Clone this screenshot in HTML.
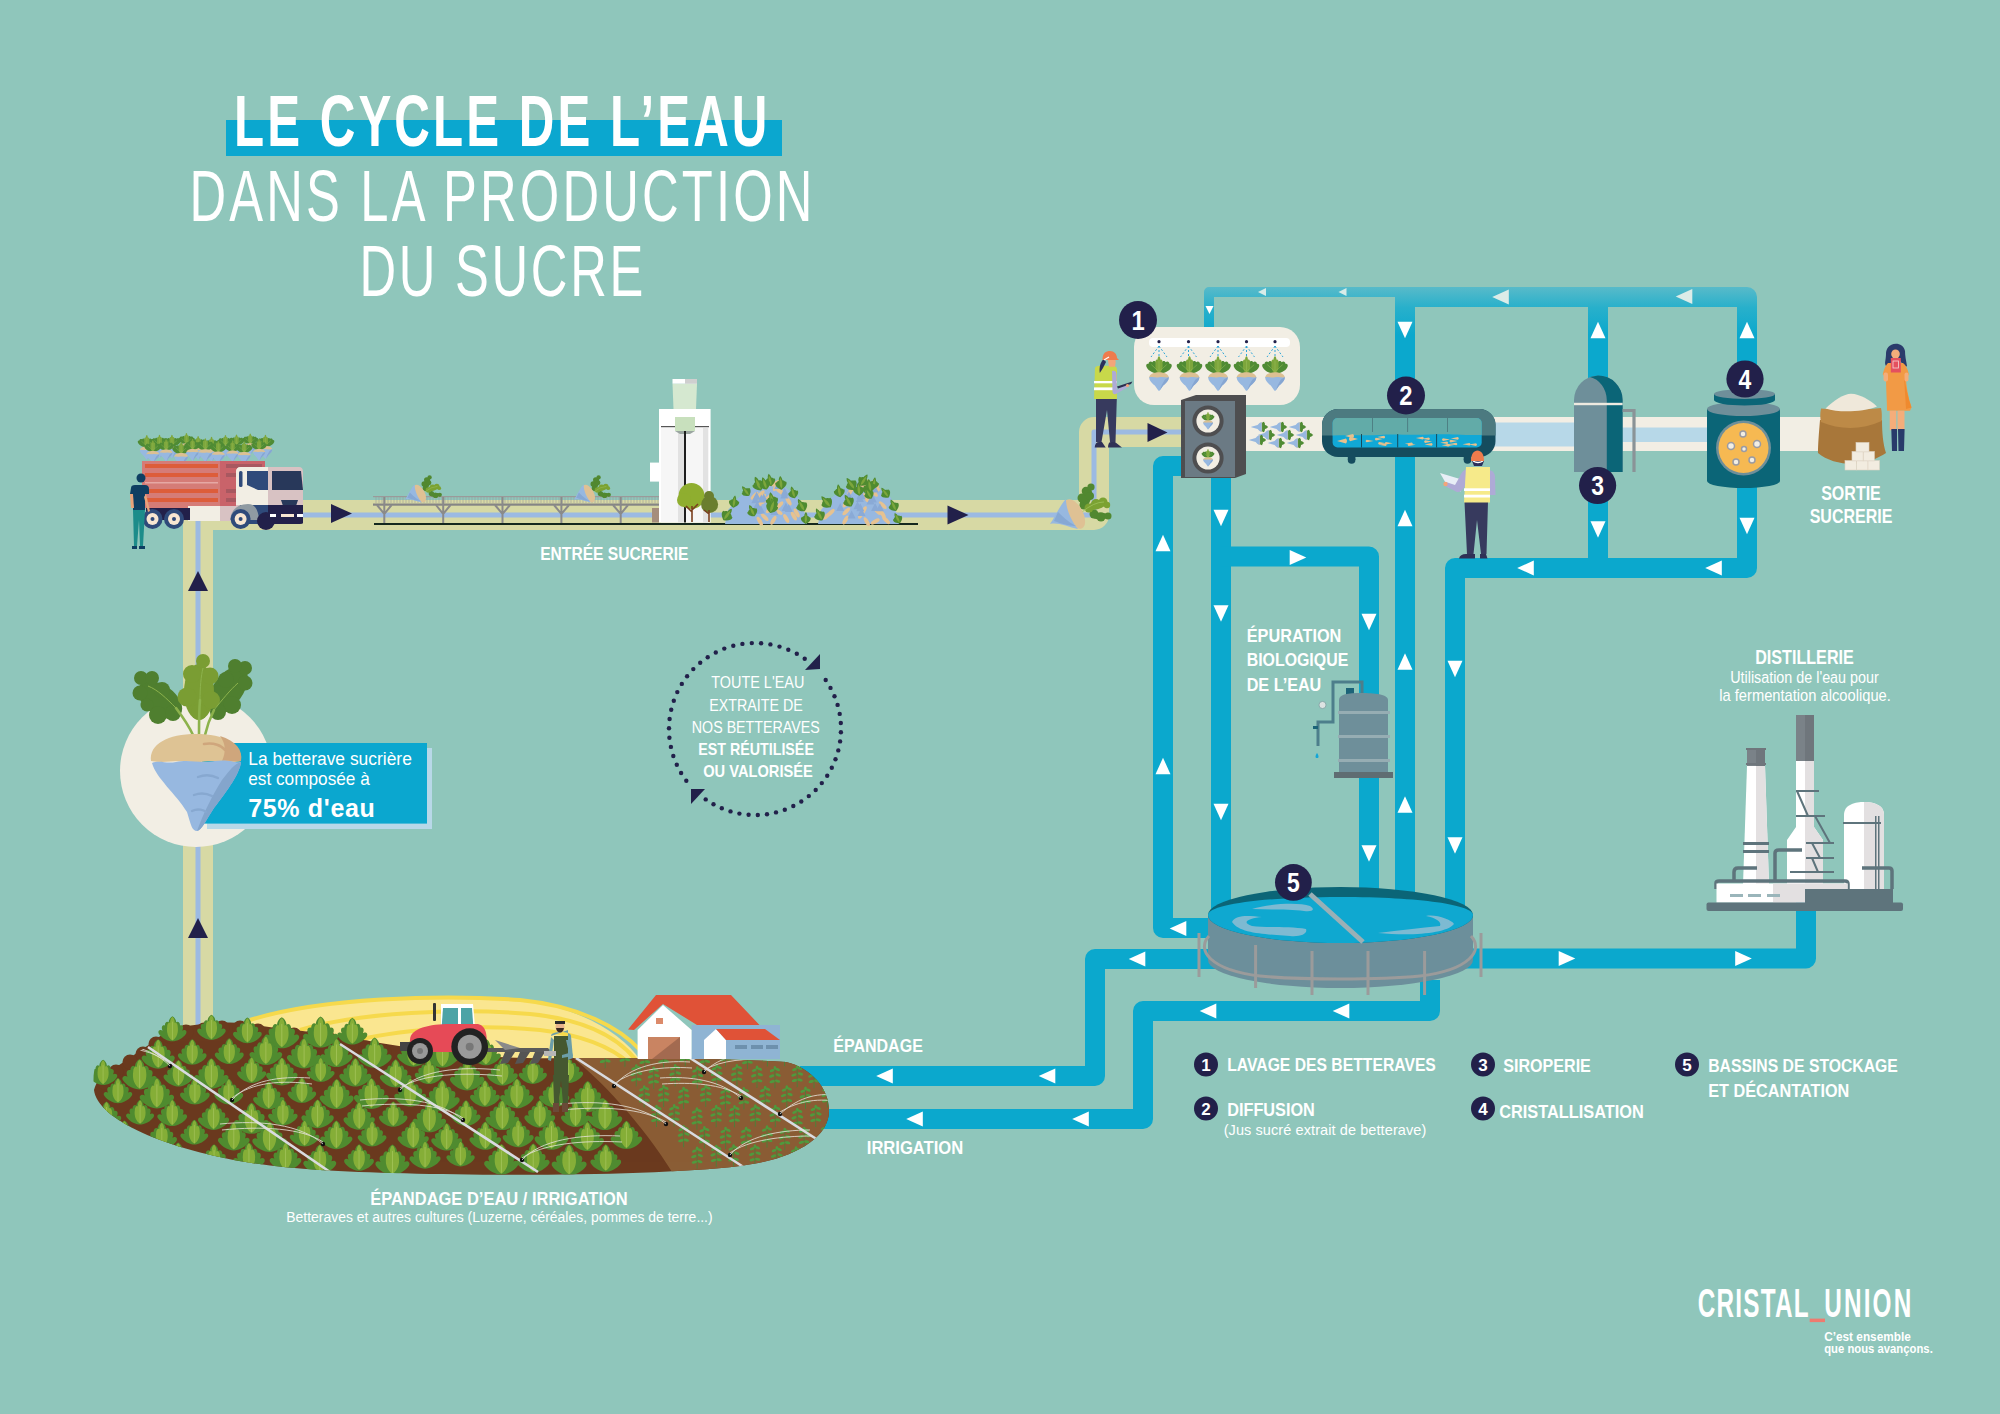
<!DOCTYPE html>
<html><head><meta charset="utf-8"><title>Le cycle de l'eau</title>
<style>
html,body{margin:0;padding:0;width:2000px;height:1414px;overflow:hidden;background:#8fc6bb;}
svg{display:block;}
text{font-family:"Liberation Sans",sans-serif;}
</style></head><body>
<svg width="2000" height="1414" viewBox="0 0 2000 1414">
<rect width="2000" height="1414" fill="#8fc6bb"/>
<!-- pipes -->
<defs>
<linearGradient id="topg" gradientUnits="userSpaceOnUse" x1="0" y1="285" x2="0" y2="335">
<stop offset="0" stop-color="#5dbbc9"/><stop offset="0.45" stop-color="#28b0cb"/><stop offset="1" stop-color="#0ba8cd"/>
</linearGradient>
</defs>
<g fill="none" stroke="#0ba8cd" stroke-linejoin="round">
<!-- thin top pipe -->
<path d="M1412 292 H1209 V335" stroke-width="10" stroke="url(#topg)"/>
<!-- top thick pipe + right loop -->
<path d="M1405 297 H1747 V568 H1455 V910" stroke-width="20" stroke="url(#topg)"/>
<path d="M1598 297 V568" stroke-width="20" stroke="url(#topg)"/>
<path d="M1405 297 V910" stroke-width="20" stroke="url(#topg)"/>
<!-- pipe A -->
<path d="M1190 466 H1163 V928 H1230" stroke-width="20"/>
<!-- pipe B + branch -->
<path d="M1221 470 V910" stroke-width="20"/>
<path d="M1221 556.5 H1369 V910" stroke-width="20"/>
<!-- middle left to epandage -->
<path d="M1300 959 H1095 V1076 H800" stroke-width="20"/>
<!-- right to distillery -->
<path d="M1380 958.5 H1806 V900" stroke-width="20"/>
<!-- lower to irrigation -->
<path d="M1430 980 V1011 H1143 V1119 H800" stroke-width="20"/>
</g>
<!-- tan pipe -->
<g fill="none" stroke-linejoin="round">
<path d="M198 1040 V515 H1094 V432 H1185" stroke="#d7d9a4" stroke-width="30"/>
<path d="M198 1040 V515 H1094 V432 H1185" stroke="#9cbae2" stroke-width="5"/>
</g>
<!-- cream conveyor -->
<rect x="1240" y="417" width="590" height="34" fill="#f2eee4"/>
<rect x="1490" y="422.5" width="90" height="24" fill="#b7d8e8"/>
<rect x="1620" y="427.5" width="95" height="14.5" fill="#b7d8e8"/>

<!-- arrows -->
<path d="M1492.2 297.0 L1508.8 289.5 L1508.8 304.5 Z" fill="#dcece8"/>
<path d="M1675.7 296.5 L1692.3 289.0 L1692.3 304.0 Z" fill="#dcece8"/>
<path d="M1598.0 321.7 L1590.5 338.3 L1605.5 338.3 Z" fill="#ffffff"/>
<path d="M1598.0 537.8 L1590.5 521.2 L1605.5 521.2 Z" fill="#ffffff"/>
<path d="M1747.0 321.7 L1739.5 338.3 L1754.5 338.3 Z" fill="#ffffff"/>
<path d="M1747.0 534.3 L1739.5 517.7 L1754.5 517.7 Z" fill="#ffffff"/>
<path d="M1517.2 568.0 L1533.8 560.5 L1533.8 575.5 Z" fill="#ffffff"/>
<path d="M1705.2 568.0 L1721.8 560.5 L1721.8 575.5 Z" fill="#ffffff"/>
<path d="M1405.0 338.3 L1397.5 321.7 L1412.5 321.7 Z" fill="#ffffff"/>
<path d="M1405.0 509.7 L1397.5 526.3 L1412.5 526.3 Z" fill="#ffffff"/>
<path d="M1405.0 653.2 L1397.5 669.8 L1412.5 669.8 Z" fill="#ffffff"/>
<path d="M1405.0 796.2 L1397.5 812.8 L1412.5 812.8 Z" fill="#ffffff"/>
<path d="M1455.0 677.3 L1447.5 660.7 L1462.5 660.7 Z" fill="#ffffff"/>
<path d="M1455.0 853.8 L1447.5 837.2 L1462.5 837.2 Z" fill="#ffffff"/>
<path d="M1369.0 630.3 L1361.5 613.7 L1376.5 613.7 Z" fill="#ffffff"/>
<path d="M1369.0 861.8 L1361.5 845.2 L1376.5 845.2 Z" fill="#ffffff"/>
<path d="M1306.3 557.5 L1289.7 550.0 L1289.7 565.0 Z" fill="#ffffff"/>
<path d="M1221.0 526.3 L1213.5 509.7 L1228.5 509.7 Z" fill="#ffffff"/>
<path d="M1221.0 621.8 L1213.5 605.2 L1228.5 605.2 Z" fill="#ffffff"/>
<path d="M1221.0 820.3 L1213.5 803.7 L1228.5 803.7 Z" fill="#ffffff"/>
<path d="M1163.0 534.7 L1155.5 551.3 L1170.5 551.3 Z" fill="#ffffff"/>
<path d="M1163.0 757.7 L1155.5 774.3 L1170.5 774.3 Z" fill="#ffffff"/>
<path d="M1169.7 928.5 L1186.3 921.0 L1186.3 936.0 Z" fill="#ffffff"/>
<path d="M1128.7 959.0 L1145.3 951.5 L1145.3 966.5 Z" fill="#ffffff"/>
<path d="M1199.7 1011.0 L1216.3 1003.5 L1216.3 1018.5 Z" fill="#ffffff"/>
<path d="M1332.7 1011.0 L1349.3 1003.5 L1349.3 1018.5 Z" fill="#ffffff"/>
<path d="M1575.3 958.5 L1558.7 951.0 L1558.7 966.0 Z" fill="#ffffff"/>
<path d="M1751.8 958.5 L1735.2 951.0 L1735.2 966.0 Z" fill="#ffffff"/>
<path d="M876.2 1076.0 L892.8 1068.5 L892.8 1083.5 Z" fill="#ffffff"/>
<path d="M1038.7 1076.0 L1055.3 1068.5 L1055.3 1083.5 Z" fill="#ffffff"/>
<path d="M906.2 1119.0 L922.8 1111.5 L922.8 1126.5 Z" fill="#ffffff"/>
<path d="M1072.2 1119.0 L1088.8 1111.5 L1088.8 1126.5 Z" fill="#ffffff"/>
<path d="M1258.0 292.0 L1266.0 288.0 L1266.0 296.0 Z" fill="#d8ece8"/>
<path d="M1338.5 292.0 L1346.5 288.0 L1346.5 296.0 Z" fill="#d8ece8"/>
<path d="M1209.5 314.0 L1205.5 306.0 L1213.5 306.0 Z" fill="#ffffff"/>
<path d="M352.0 513.5 L331.0 504.0 L331.0 523.0 Z" fill="#22204a"/>
<path d="M968.5 515.0 L947.5 505.5 L947.5 524.5 Z" fill="#22204a"/>
<path d="M1167.5 432.5 L1147.5 423.0 L1147.5 442.0 Z" fill="#22204a"/>
<path d="M198.0 571.0 L188.0 591.0 L208.0 591.0 Z" fill="#22204a"/>
<path d="M198.0 918.0 L188.0 938.0 L208.0 938.0 Z" fill="#22204a"/>
<!-- title -->
<rect x="226" y="120" width="556" height="36" fill="#0ba7cf"/>
<g transform="translate(234 145.5) scale(0.68 1)">
<text x="0" y="0" font-size="72.5" font-weight="bold" fill="#fff" textLength="784.5" lengthAdjust="spacing">LE CYCLE DE L’EAU</text>
</g>
<g transform="translate(189.5 221) scale(0.7 1)">
<text x="0" y="0" font-size="72.5" fill="#fff" textLength="890" lengthAdjust="spacing">DANS LA PRODUCTION</text>
</g>
<g transform="translate(359.5 295.5) scale(0.7 1)">
<text x="0" y="0" font-size="72.5" fill="#fff" textLength="405.5" lengthAdjust="spacing">DU SUCRE</text>
</g>

<!-- left -->
<!-- truck -->
<g>
<!-- beets on top -->
<use href="#beet" x="136.9" y="431.2" width="19.8" height="31.6"/>
<use href="#beet" x="150.1" y="431.0" width="18.8" height="30.0"/>
<use href="#beet" x="162.5" y="431.0" width="18.9" height="30.2"/>
<use href="#beet" x="177.5" y="429.4" width="17.9" height="28.7"/>
<use href="#beet" x="188.6" y="432.2" width="19.1" height="30.5"/>
<use href="#beet" x="201.6" y="432.9" width="19.9" height="31.8"/>
<use href="#beet" x="216.7" y="431.5" width="17.5" height="28.0"/>
<use href="#beet" x="227.9" y="431.1" width="17.2" height="27.5"/>
<use href="#beet" x="241.7" y="430.0" width="17.1" height="27.3"/>
<use href="#beet" x="255.7" y="430.8" width="19.5" height="31.2"/>
<use href="#beet" x="143.6" y="436.6" width="18.5" height="29.6"/>
<use href="#beet" x="157.2" y="435.8" width="17.8" height="28.5"/>
<use href="#beet" x="171.4" y="438.0" width="19.5" height="31.2"/>
<use href="#beet" x="183.7" y="435.3" width="17.7" height="28.3"/>
<use href="#beet" x="195.7" y="434.3" width="19.3" height="30.9"/>
<use href="#beet" x="209.2" y="437.4" width="18.2" height="29.1"/>
<use href="#beet" x="224.1" y="437.4" width="17.0" height="27.2"/>
<use href="#beet" x="235.0" y="437.6" width="18.4" height="29.5"/>
<use href="#beet" x="250.5" y="435.6" width="17.2" height="27.6"/>
<rect x="142" y="461" width="123" height="47" fill="#d57c77"/>
<rect x="220" y="461" width="45" height="47" fill="#c9636a"/>
<g fill="#dd5d3a">
<rect x="145" y="464" width="73" height="4"/><rect x="145" y="473" width="73" height="4"/><rect x="145" y="489" width="73" height="4"/><rect x="145" y="498" width="73" height="4"/>
</g>
<rect x="145" y="482" width="73" height="1.5" fill="#e6a8a4"/>
<g fill="#a85860"><rect x="226" y="464" width="36" height="4"/><rect x="226" y="473" width="36" height="4"/><rect x="226" y="489" width="36" height="4"/><rect x="226" y="498" width="36" height="4"/></g>
<rect x="188" y="506" width="45" height="15" fill="#f2eee4"/>
<rect x="220" y="506" width="16" height="15" fill="#d8c2c3"/>
<rect x="146" y="508" width="44" height="12" fill="#22204a"/>
<circle cx="152.5" cy="519" r="10" fill="#2f4a7a"/><circle cx="152.5" cy="519" r="6" fill="#f8e6d2"/><circle cx="152.5" cy="519" r="2" fill="#2f4a7a"/>
<circle cx="174" cy="519" r="10" fill="#2f4a7a"/><circle cx="174" cy="519" r="6" fill="#f8e6d2"/><circle cx="174" cy="519" r="2" fill="#2f4a7a"/>
<path d="M236 472 Q236 467 241 467 H299 Q303 467 303 472 V523 H236Z" fill="#d8c2c3"/>
<path d="M236 472 Q236 467 241 467 H268 V505 H236Z" fill="#f2eee4"/>
<rect x="239" y="471" width="3.5" height="16" rx="1.5" fill="#2f4a7a"/>
<path d="M247 471 H268 V490 H258 L247 485Z" fill="#2f4a7a"/>
<path d="M272 471 H301 L303 490 H272Z" fill="#28385a"/>
<path d="M281 500 H298 L296 506 H283Z" fill="#28385a"/>
<path d="M268 505 H303 V523 Q303 524 300 524 H268Z" fill="#22204a"/>
<path d="M240 505 H268 V524 H240Z" fill="#2f4a7a"/>
<path d="M230 520 Q232 504 248 504 Q258 504 259 520 Z" fill="#8f9aa2"/>
<circle cx="240.6" cy="519" r="10" fill="#2f4a7a"/><circle cx="240.6" cy="519" r="6" fill="#f8e6d2"/><circle cx="240.6" cy="519" r="2" fill="#2f4a7a"/>
<circle cx="266" cy="521" r="9" fill="#22204a"/>
<rect x="270" y="514" width="6" height="3" fill="#fff"/><rect x="281" y="514" width="13" height="3" fill="#f8e6d2"/><rect x="297" y="514" width="6" height="3" fill="#fff"/>
</g>
<!-- person by truck -->
<g>
<circle cx="141" cy="478" r="4.5" fill="#0e3e62"/>
<path d="M131 488 Q131 485 135 485 H145 Q149 485 149 489 V494 H145 V510 H133 V494 H130Z" fill="#0e3e62"/>
<path d="M133 510 H145 L143 546 H140 L139 520 L137 546 H134Z" fill="#1c8c8a"/>
<path d="M130 494 L131 508 L134 508 L133 494Z" fill="#e8a27a"/>
<path d="M146 494 L150 511 L148 512 L144 497Z" fill="#e8a27a"/>
<rect x="132" y="546" width="5" height="3" fill="#0e3e62"/><rect x="139" y="546" width="6" height="3" fill="#0e3e62"/>
</g>
<!-- bridge -->
<g>
<rect x="374" y="523" width="544" height="2" fill="#14281e"/>
<rect x="373" y="503.5" width="287" height="2.2" fill="#858585"/>
<rect x="373" y="496" width="287" height="1.2" fill="#9a9a9a"/>
<g stroke="#9a9a9a" stroke-width="0.6">
<path d="M376 497 V503 M379 497 V503 M382 497 V503 M385 497 V503 M388 497 V503 M391 497 V503 M394 497 V503 M397 497 V503 M400 497 V503 M403 497 V503 M406 497 V503 M409 497 V503 M412 497 V503 M415 497 V503 M418 497 V503 M421 497 V503 M424 497 V503 M427 497 V503 M430 497 V503 M433 497 V503 M436 497 V503 M439 497 V503 M442 497 V503 M445 497 V503 M448 497 V503 M451 497 V503 M454 497 V503 M457 497 V503 M460 497 V503 M463 497 V503 M466 497 V503 M469 497 V503 M472 497 V503 M475 497 V503 M478 497 V503 M481 497 V503 M484 497 V503 M487 497 V503 M490 497 V503 M493 497 V503 M496 497 V503 M499 497 V503 M502 497 V503 M505 497 V503 M508 497 V503 M511 497 V503 M514 497 V503 M517 497 V503 M520 497 V503 M523 497 V503 M526 497 V503 M529 497 V503 M532 497 V503 M535 497 V503 M538 497 V503 M541 497 V503 M544 497 V503 M547 497 V503 M550 497 V503 M553 497 V503 M556 497 V503 M559 497 V503 M562 497 V503 M565 497 V503 M568 497 V503 M571 497 V503 M574 497 V503 M577 497 V503 M580 497 V503 M583 497 V503 M586 497 V503 M589 497 V503 M592 497 V503 M595 497 V503 M598 497 V503 M601 497 V503 M604 497 V503 M607 497 V503 M610 497 V503 M613 497 V503 M616 497 V503 M619 497 V503 M622 497 V503 M625 497 V503 M628 497 V503 M631 497 V503 M634 497 V503 M637 497 V503 M640 497 V503 M643 497 V503 M646 497 V503 M649 497 V503 M652 497 V503 M655 497 V503 M658 497 V503"/>
</g>
<g fill="none" stroke="#8a8a8a" stroke-width="2">
<path d="M384.3 497 V523 M377 505 L384.3 514 L391.6 505"/>
<path d="M443.2 497 V523 M436 505 L443.2 514 L450.5 505"/>
<path d="M502.5 497 V523 M495 505 L502.5 514 L510 505"/>
<path d="M561.4 497 V523 M554 505 L561.4 514 L569 505"/>
<path d="M620.7 497 V523 M613 505 L620.7 514 L628 505"/>
</g>
<use href="#tbeet" transform="translate(405 475) scale(0.6) translate(-1050 -483)"/>
<use href="#tbeet" transform="translate(574 475) scale(0.6) translate(-1050 -483)"/>
</g>
<!-- silo -->
<g>
<rect x="650" y="462.6" width="9.6" height="19" fill="#ffffff"/>
<rect x="652" y="508" width="7" height="14.5" fill="#a58d7c"/>
<rect x="659" y="409" width="51.6" height="113.5" fill="#ffffff"/>
<rect x="661" y="426" width="48" height="96.5" fill="#f6f6f6"/>
<rect x="678" y="428" width="6" height="94.5" fill="#e2e2e2"/>
<rect x="703" y="428" width="5" height="94.5" fill="#e2e2e2"/>
<rect x="661" y="426" width="48" height="1.2" fill="#555"/>
<path d="M672.5 383.7 H697 L696 409 H673.5Z" fill="#d5e8d0"/>
<rect x="672.5" y="379" width="24.5" height="4.7" fill="#ffffff"/><rect x="685" y="379" width="12" height="4.7" fill="#cfcfcf"/>
<rect x="675" y="417" width="20" height="14" fill="#c8e0bd"/>
<path d="M675 431 H695 L690 434 H680Z" fill="#9aa5a0"/>
<rect x="684" y="431" width="2" height="91.5" fill="#1e1e1e"/>
<circle cx="691.5" cy="496" r="13" fill="#8fae2f"/><circle cx="684" cy="500" r="7" fill="#8fae2f"/>
<circle cx="709.6" cy="504.4" r="8.5" fill="#6a7e2e"/><circle cx="709" cy="496" r="5" fafill="#6a7e2e" fill="#6a7e2e"/>
<path d="M692 522 V506 M692 512 L686 506 M692 510 L698 504 M709 522 V510 M709 514 L704 510" stroke="#7a3f1e" stroke-width="1.6" fill="none"/>
</g>
<!-- beet piles -->
<path d="M725.0 524.0 L728.0 510.0 L738.0 498.0 L752.0 488.0 L763.0 483.0 L775.0 480.0 L785.0 487.0 L799.0 498.0 L804.0 512.0 L807.0 524.0 Z" fill="#97b8e0"/>
<ellipse cx="763.5" cy="500.8" rx="5" ry="2" transform="rotate(-45 763.5 500.8)" fill="#e6c291"/>
<ellipse cx="773.7" cy="499.3" rx="5" ry="2" transform="rotate(60 773.7 499.3)" fill="#e6c291"/>
<ellipse cx="796.7" cy="512.9" rx="5" ry="2" transform="rotate(60 796.7 512.9)" fill="#e6c291"/>
<ellipse cx="764.8" cy="500.6" rx="5" ry="2" transform="rotate(-30 764.8 500.6)" fill="#e6c291"/>
<ellipse cx="793.8" cy="516.1" rx="5" ry="2" transform="rotate(60 793.8 516.1)" fill="#e6c291"/>
<ellipse cx="754.5" cy="495.8" rx="5" ry="2" transform="rotate(-45 754.5 495.8)" fill="#e6c291"/>
<ellipse cx="780.5" cy="491.6" rx="5" ry="2" transform="rotate(30 780.5 491.6)" fill="#e6c291"/>
<ellipse cx="783.0" cy="494.0" rx="5" ry="2" transform="rotate(45 783.0 494.0)" fill="#e6c291"/>
<ellipse cx="779.5" cy="505.3" rx="5" ry="2" transform="rotate(-45 779.5 505.3)" fill="#e6c291"/>
<ellipse cx="780.1" cy="485.5" rx="5" ry="2" transform="rotate(-60 780.1 485.5)" fill="#e6c291"/>
<ellipse cx="757.6" cy="502.7" rx="5" ry="2" transform="rotate(45 757.6 502.7)" fill="#e6c291"/>
<ellipse cx="762.1" cy="497.6" rx="5" ry="2" transform="rotate(-45 762.1 497.6)" fill="#e6c291"/>
<ellipse cx="770.7" cy="499.6" rx="5" ry="2" transform="rotate(60 770.7 499.6)" fill="#e6c291"/>
<ellipse cx="776.0" cy="486.7" rx="5" ry="2" transform="rotate(-60 776.0 486.7)" fill="#e6c291"/>
<ellipse cx="775.6" cy="483.4" rx="5" ry="2" transform="rotate(-30 775.6 483.4)" fill="#e6c291"/>
<ellipse cx="769.7" cy="509.3" rx="5" ry="2" transform="rotate(-45 769.7 509.3)" fill="#e6c291"/>
<ellipse cx="760.8" cy="494.2" rx="5" ry="2" transform="rotate(-45 760.8 494.2)" fill="#e6c291"/>
<ellipse cx="764.7" cy="517.1" rx="5" ry="2" transform="rotate(45 764.7 517.1)" fill="#e6c291"/>
<ellipse cx="786.2" cy="518.5" rx="5" ry="2" transform="rotate(60 786.2 518.5)" fill="#e6c291"/>
<ellipse cx="759.8" cy="521.2" rx="5" ry="2" transform="rotate(60 759.8 521.2)" fill="#e6c291"/>
<ellipse cx="773.4" cy="520.3" rx="5" ry="2" transform="rotate(-60 773.4 520.3)" fill="#e6c291"/>
<ellipse cx="771.5" cy="499.1" rx="5" ry="2" transform="rotate(30 771.5 499.1)" fill="#e6c291"/>
<ellipse cx="769.3" cy="483.1" rx="5" ry="2" transform="rotate(-60 769.3 483.1)" fill="#e6c291"/>
<ellipse cx="788.5" cy="501.1" rx="5" ry="2" transform="rotate(60 788.5 501.1)" fill="#e6c291"/>
<ellipse cx="778.1" cy="511.7" rx="5" ry="2" transform="rotate(30 778.1 511.7)" fill="#e6c291"/>
<ellipse cx="780.1" cy="484.6" rx="5" ry="2" transform="rotate(60 780.1 484.6)" fill="#e6c291"/>
<path d="M782.0 511.1 l4 -8 l4 8Z" fill="#8aaad6"/>
<path d="M781.8 510.7 l4 -8 l4 8Z" fill="#8aaad6"/>
<path d="M752.6 499.8 l4 -8 l4 8Z" fill="#8aaad6"/>
<path d="M774.2 489.0 l4 -8 l4 8Z" fill="#8aaad6"/>
<path d="M770.4 515.0 l4 -8 l4 8Z" fill="#8aaad6"/>
<path d="M780.3 498.5 l4 -8 l4 8Z" fill="#8aaad6"/>
<path d="M753.2 508.8 l4 -8 l4 8Z" fill="#8aaad6"/>
<path d="M754.8 513.8 l4 -8 l4 8Z" fill="#8aaad6"/>
<path d="M780.7 495.8 l4 -8 l4 8Z" fill="#8aaad6"/>
<path d="M756.9 513.3 l4 -8 l4 8Z" fill="#8aaad6"/>
<path d="M751.3 503.2 l4 -8 l4 8Z" fill="#8aaad6"/>
<path d="M759.7 501.6 l4 -8 l4 8Z" fill="#8aaad6"/>
<path d="M784.7 511.9 l4 -8 l4 8Z" fill="#8aaad6"/>
<path d="M757.3 502.5 l4 -8 l4 8Z" fill="#8aaad6"/>
<g transform="translate(726.8 515.6) rotate(36) scale(0.94)"><path d="M0 6 C-4 4 -7 1 -6 -2 C-4 -2 -4 -4 -2 -4 C-2 -6 -1 -8 0 -9 C1 -8 2 -6 2 -4 C4 -4 4 -2 6 -2 C7 1 4 4 0 6Z" fill="#4f8b30"/><path d="M0 5 C-2 2 -2 -2 0 -7 C2 -2 2 2 0 5Z" fill="#7da63c"/></g>
<g transform="translate(734.0 502.8) rotate(8) scale(0.83)"><path d="M0 6 C-4 4 -7 1 -6 -2 C-4 -2 -4 -4 -2 -4 C-2 -6 -1 -8 0 -9 C1 -8 2 -6 2 -4 C4 -4 4 -2 6 -2 C7 1 4 4 0 6Z" fill="#4f8b30"/><path d="M0 5 C-2 2 -2 -2 0 -7 C2 -2 2 2 0 5Z" fill="#7da63c"/></g>
<g transform="translate(746.4 492.0) rotate(-37) scale(0.79)"><path d="M0 6 C-4 4 -7 1 -6 -2 C-4 -2 -4 -4 -2 -4 C-2 -6 -1 -8 0 -9 C1 -8 2 -6 2 -4 C4 -4 4 -2 6 -2 C7 1 4 4 0 6Z" fill="#4f8b30"/><path d="M0 5 C-2 2 -2 -2 0 -7 C2 -2 2 2 0 5Z" fill="#7da63c"/></g>
<g transform="translate(758.6 485.0) rotate(-24) scale(0.99)"><path d="M0 6 C-4 4 -7 1 -6 -2 C-4 -2 -4 -4 -2 -4 C-2 -6 -1 -8 0 -9 C1 -8 2 -6 2 -4 C4 -4 4 -2 6 -2 C7 1 4 4 0 6Z" fill="#4f8b30"/><path d="M0 5 C-2 2 -2 -2 0 -7 C2 -2 2 2 0 5Z" fill="#7da63c"/></g>
<g transform="translate(770.2 481.2) rotate(-12) scale(0.84)"><path d="M0 6 C-4 4 -7 1 -6 -2 C-4 -2 -4 -4 -2 -4 C-2 -6 -1 -8 0 -9 C1 -8 2 -6 2 -4 C4 -4 4 -2 6 -2 C7 1 4 4 0 6Z" fill="#4f8b30"/><path d="M0 5 C-2 2 -2 -2 0 -7 C2 -2 2 2 0 5Z" fill="#7da63c"/></g>
<g transform="translate(781.0 484.2) rotate(-6) scale(0.92)"><path d="M0 6 C-4 4 -7 1 -6 -2 C-4 -2 -4 -4 -2 -4 C-2 -6 -1 -8 0 -9 C1 -8 2 -6 2 -4 C4 -4 4 -2 6 -2 C7 1 4 4 0 6Z" fill="#4f8b30"/><path d="M0 5 C-2 2 -2 -2 0 -7 C2 -2 2 2 0 5Z" fill="#7da63c"/></g>
<g transform="translate(793.4 493.6) rotate(-17) scale(0.82)"><path d="M0 6 C-4 4 -7 1 -6 -2 C-4 -2 -4 -4 -2 -4 C-2 -6 -1 -8 0 -9 C1 -8 2 -6 2 -4 C4 -4 4 -2 6 -2 C7 1 4 4 0 6Z" fill="#4f8b30"/><path d="M0 5 C-2 2 -2 -2 0 -7 C2 -2 2 2 0 5Z" fill="#7da63c"/></g>
<g transform="translate(802.0 506.4) rotate(-28) scale(0.93)"><path d="M0 6 C-4 4 -7 1 -6 -2 C-4 -2 -4 -4 -2 -4 C-2 -6 -1 -8 0 -9 C1 -8 2 -6 2 -4 C4 -4 4 -2 6 -2 C7 1 4 4 0 6Z" fill="#4f8b30"/><path d="M0 5 C-2 2 -2 -2 0 -7 C2 -2 2 2 0 5Z" fill="#7da63c"/></g>
<g transform="translate(805.8 519.2) rotate(1) scale(0.79)"><path d="M0 6 C-4 4 -7 1 -6 -2 C-4 -2 -4 -4 -2 -4 C-2 -6 -1 -8 0 -9 C1 -8 2 -6 2 -4 C4 -4 4 -2 6 -2 C7 1 4 4 0 6Z" fill="#4f8b30"/><path d="M0 5 C-2 2 -2 -2 0 -7 C2 -2 2 2 0 5Z" fill="#7da63c"/></g>
<g transform="translate(772.1 500.9) rotate(-12) scale(0.99)"><path d="M0 6 C-4 4 -7 1 -6 -2 C-4 -2 -4 -4 -2 -4 C-2 -6 -1 -8 0 -9 C1 -8 2 -6 2 -4 C4 -4 4 -2 6 -2 C7 1 4 4 0 6Z" fill="#4f8b30"/><path d="M0 5 C-2 2 -2 -2 0 -7 C2 -2 2 2 0 5Z" fill="#7da63c"/></g>
<g transform="translate(765.0 484.6) rotate(-19) scale(0.87)"><path d="M0 6 C-4 4 -7 1 -6 -2 C-4 -2 -4 -4 -2 -4 C-2 -6 -1 -8 0 -9 C1 -8 2 -6 2 -4 C4 -4 4 -2 6 -2 C7 1 4 4 0 6Z" fill="#4f8b30"/><path d="M0 5 C-2 2 -2 -2 0 -7 C2 -2 2 2 0 5Z" fill="#7da63c"/></g>
<g transform="translate(773.1 505.1) rotate(-13) scale(0.79)"><path d="M0 6 C-4 4 -7 1 -6 -2 C-4 -2 -4 -4 -2 -4 C-2 -6 -1 -8 0 -9 C1 -8 2 -6 2 -4 C4 -4 4 -2 6 -2 C7 1 4 4 0 6Z" fill="#4f8b30"/><path d="M0 5 C-2 2 -2 -2 0 -7 C2 -2 2 2 0 5Z" fill="#7da63c"/></g>
<g transform="translate(771.9 507.5) rotate(17) scale(0.97)"><path d="M0 6 C-4 4 -7 1 -6 -2 C-4 -2 -4 -4 -2 -4 C-2 -6 -1 -8 0 -9 C1 -8 2 -6 2 -4 C4 -4 4 -2 6 -2 C7 1 4 4 0 6Z" fill="#4f8b30"/><path d="M0 5 C-2 2 -2 -2 0 -7 C2 -2 2 2 0 5Z" fill="#7da63c"/></g>
<g transform="translate(752.5 511.8) rotate(-25) scale(0.83)"><path d="M0 6 C-4 4 -7 1 -6 -2 C-4 -2 -4 -4 -2 -4 C-2 -6 -1 -8 0 -9 C1 -8 2 -6 2 -4 C4 -4 4 -2 6 -2 C7 1 4 4 0 6Z" fill="#4f8b30"/><path d="M0 5 C-2 2 -2 -2 0 -7 C2 -2 2 2 0 5Z" fill="#7da63c"/></g>
<path d="M818.0 524.0 L821.0 510.0 L831.0 498.0 L845.0 488.0 L856.0 483.0 L868.0 480.0 L878.0 487.0 L891.0 498.0 L896.0 512.0 L899.0 524.0 Z" fill="#97b8e0"/>
<ellipse cx="861.6" cy="484.7" rx="5" ry="2" transform="rotate(-45 861.6 484.7)" fill="#e6c291"/>
<ellipse cx="877.3" cy="511.1" rx="5" ry="2" transform="rotate(45 877.3 511.1)" fill="#e6c291"/>
<ellipse cx="865.9" cy="497.8" rx="5" ry="2" transform="rotate(60 865.9 497.8)" fill="#e6c291"/>
<ellipse cx="857.3" cy="491.0" rx="5" ry="2" transform="rotate(30 857.3 491.0)" fill="#e6c291"/>
<ellipse cx="863.6" cy="510.7" rx="5" ry="2" transform="rotate(-60 863.6 510.7)" fill="#e6c291"/>
<ellipse cx="826.9" cy="515.9" rx="5" ry="2" transform="rotate(-45 826.9 515.9)" fill="#e6c291"/>
<ellipse cx="882.8" cy="505.1" rx="5" ry="2" transform="rotate(45 882.8 505.1)" fill="#e6c291"/>
<ellipse cx="874.0" cy="492.9" rx="5" ry="2" transform="rotate(45 874.0 492.9)" fill="#e6c291"/>
<ellipse cx="866.1" cy="484.4" rx="5" ry="2" transform="rotate(-30 866.1 484.4)" fill="#e6c291"/>
<ellipse cx="876.1" cy="488.5" rx="5" ry="2" transform="rotate(-60 876.1 488.5)" fill="#e6c291"/>
<ellipse cx="886.1" cy="520.2" rx="5" ry="2" transform="rotate(45 886.1 520.2)" fill="#e6c291"/>
<ellipse cx="882.7" cy="514.3" rx="5" ry="2" transform="rotate(60 882.7 514.3)" fill="#e6c291"/>
<ellipse cx="875.2" cy="521.5" rx="5" ry="2" transform="rotate(-30 875.2 521.5)" fill="#e6c291"/>
<ellipse cx="830.8" cy="512.7" rx="5" ry="2" transform="rotate(-45 830.8 512.7)" fill="#e6c291"/>
<ellipse cx="867.3" cy="485.4" rx="5" ry="2" transform="rotate(30 867.3 485.4)" fill="#e6c291"/>
<ellipse cx="866.0" cy="484.1" rx="5" ry="2" transform="rotate(-60 866.0 484.1)" fill="#e6c291"/>
<ellipse cx="861.2" cy="514.3" rx="5" ry="2" transform="rotate(-60 861.2 514.3)" fill="#e6c291"/>
<ellipse cx="875.9" cy="491.1" rx="5" ry="2" transform="rotate(-30 875.9 491.1)" fill="#e6c291"/>
<ellipse cx="866.8" cy="521.7" rx="5" ry="2" transform="rotate(60 866.8 521.7)" fill="#e6c291"/>
<ellipse cx="846.3" cy="511.4" rx="5" ry="2" transform="rotate(-45 846.3 511.4)" fill="#e6c291"/>
<ellipse cx="845.5" cy="520.0" rx="5" ry="2" transform="rotate(-60 845.5 520.0)" fill="#e6c291"/>
<ellipse cx="850.2" cy="491.8" rx="5" ry="2" transform="rotate(-60 850.2 491.8)" fill="#e6c291"/>
<ellipse cx="871.9" cy="484.0" rx="5" ry="2" transform="rotate(-60 871.9 484.0)" fill="#e6c291"/>
<ellipse cx="845.8" cy="502.9" rx="5" ry="2" transform="rotate(-60 845.8 502.9)" fill="#e6c291"/>
<ellipse cx="865.8" cy="496.8" rx="5" ry="2" transform="rotate(30 865.8 496.8)" fill="#e6c291"/>
<ellipse cx="864.1" cy="483.5" rx="5" ry="2" transform="rotate(-30 864.1 483.5)" fill="#e6c291"/>
<path d="M866.5 504.4 l4 -8 l4 8Z" fill="#8aaad6"/>
<path d="M836.2 510.9 l4 -8 l4 8Z" fill="#8aaad6"/>
<path d="M847.6 518.4 l4 -8 l4 8Z" fill="#8aaad6"/>
<path d="M868.8 502.6 l4 -8 l4 8Z" fill="#8aaad6"/>
<path d="M871.1 510.9 l4 -8 l4 8Z" fill="#8aaad6"/>
<path d="M855.9 502.0 l4 -8 l4 8Z" fill="#8aaad6"/>
<path d="M856.3 511.2 l4 -8 l4 8Z" fill="#8aaad6"/>
<path d="M856.5 499.0 l4 -8 l4 8Z" fill="#8aaad6"/>
<path d="M857.7 499.3 l4 -8 l4 8Z" fill="#8aaad6"/>
<path d="M857.5 515.9 l4 -8 l4 8Z" fill="#8aaad6"/>
<path d="M844.9 499.3 l4 -8 l4 8Z" fill="#8aaad6"/>
<path d="M853.5 509.3 l4 -8 l4 8Z" fill="#8aaad6"/>
<path d="M870.6 492.5 l4 -8 l4 8Z" fill="#8aaad6"/>
<path d="M875.9 511.2 l4 -8 l4 8Z" fill="#8aaad6"/>
<g transform="translate(819.8 515.6) rotate(-27) scale(0.90)"><path d="M0 6 C-4 4 -7 1 -6 -2 C-4 -2 -4 -4 -2 -4 C-2 -6 -1 -8 0 -9 C1 -8 2 -6 2 -4 C4 -4 4 -2 6 -2 C7 1 4 4 0 6Z" fill="#4f8b30"/><path d="M0 5 C-2 2 -2 -2 0 -7 C2 -2 2 2 0 5Z" fill="#7da63c"/></g>
<g transform="translate(827.0 502.8) rotate(-40) scale(0.96)"><path d="M0 6 C-4 4 -7 1 -6 -2 C-4 -2 -4 -4 -2 -4 C-2 -6 -1 -8 0 -9 C1 -8 2 -6 2 -4 C4 -4 4 -2 6 -2 C7 1 4 4 0 6Z" fill="#4f8b30"/><path d="M0 5 C-2 2 -2 -2 0 -7 C2 -2 2 2 0 5Z" fill="#7da63c"/></g>
<g transform="translate(839.4 492.0) rotate(-10) scale(0.88)"><path d="M0 6 C-4 4 -7 1 -6 -2 C-4 -2 -4 -4 -2 -4 C-2 -6 -1 -8 0 -9 C1 -8 2 -6 2 -4 C4 -4 4 -2 6 -2 C7 1 4 4 0 6Z" fill="#4f8b30"/><path d="M0 5 C-2 2 -2 -2 0 -7 C2 -2 2 2 0 5Z" fill="#7da63c"/></g>
<g transform="translate(851.6 485.0) rotate(-35) scale(0.95)"><path d="M0 6 C-4 4 -7 1 -6 -2 C-4 -2 -4 -4 -2 -4 C-2 -6 -1 -8 0 -9 C1 -8 2 -6 2 -4 C4 -4 4 -2 6 -2 C7 1 4 4 0 6Z" fill="#4f8b30"/><path d="M0 5 C-2 2 -2 -2 0 -7 C2 -2 2 2 0 5Z" fill="#7da63c"/></g>
<g transform="translate(863.2 481.2) rotate(32) scale(0.89)"><path d="M0 6 C-4 4 -7 1 -6 -2 C-4 -2 -4 -4 -2 -4 C-2 -6 -1 -8 0 -9 C1 -8 2 -6 2 -4 C4 -4 4 -2 6 -2 C7 1 4 4 0 6Z" fill="#4f8b30"/><path d="M0 5 C-2 2 -2 -2 0 -7 C2 -2 2 2 0 5Z" fill="#7da63c"/></g>
<g transform="translate(874.0 484.2) rotate(8) scale(0.79)"><path d="M0 6 C-4 4 -7 1 -6 -2 C-4 -2 -4 -4 -2 -4 C-2 -6 -1 -8 0 -9 C1 -8 2 -6 2 -4 C4 -4 4 -2 6 -2 C7 1 4 4 0 6Z" fill="#4f8b30"/><path d="M0 5 C-2 2 -2 -2 0 -7 C2 -2 2 2 0 5Z" fill="#7da63c"/></g>
<g transform="translate(885.8 493.6) rotate(-37) scale(0.81)"><path d="M0 6 C-4 4 -7 1 -6 -2 C-4 -2 -4 -4 -2 -4 C-2 -6 -1 -8 0 -9 C1 -8 2 -6 2 -4 C4 -4 4 -2 6 -2 C7 1 4 4 0 6Z" fill="#4f8b30"/><path d="M0 5 C-2 2 -2 -2 0 -7 C2 -2 2 2 0 5Z" fill="#7da63c"/></g>
<g transform="translate(894.0 506.4) rotate(-25) scale(0.85)"><path d="M0 6 C-4 4 -7 1 -6 -2 C-4 -2 -4 -4 -2 -4 C-2 -6 -1 -8 0 -9 C1 -8 2 -6 2 -4 C4 -4 4 -2 6 -2 C7 1 4 4 0 6Z" fill="#4f8b30"/><path d="M0 5 C-2 2 -2 -2 0 -7 C2 -2 2 2 0 5Z" fill="#7da63c"/></g>
<g transform="translate(897.8 519.2) rotate(-26) scale(0.78)"><path d="M0 6 C-4 4 -7 1 -6 -2 C-4 -2 -4 -4 -2 -4 C-2 -6 -1 -8 0 -9 C1 -8 2 -6 2 -4 C4 -4 4 -2 6 -2 C7 1 4 4 0 6Z" fill="#4f8b30"/><path d="M0 5 C-2 2 -2 -2 0 -7 C2 -2 2 2 0 5Z" fill="#7da63c"/></g>
<g transform="translate(858.9 490.3) rotate(-4) scale(0.92)"><path d="M0 6 C-4 4 -7 1 -6 -2 C-4 -2 -4 -4 -2 -4 C-2 -6 -1 -8 0 -9 C1 -8 2 -6 2 -4 C4 -4 4 -2 6 -2 C7 1 4 4 0 6Z" fill="#4f8b30"/><path d="M0 5 C-2 2 -2 -2 0 -7 C2 -2 2 2 0 5Z" fill="#7da63c"/></g>
<g transform="translate(848.8 501.8) rotate(-29) scale(0.90)"><path d="M0 6 C-4 4 -7 1 -6 -2 C-4 -2 -4 -4 -2 -4 C-2 -6 -1 -8 0 -9 C1 -8 2 -6 2 -4 C4 -4 4 -2 6 -2 C7 1 4 4 0 6Z" fill="#4f8b30"/><path d="M0 5 C-2 2 -2 -2 0 -7 C2 -2 2 2 0 5Z" fill="#7da63c"/></g>
<g transform="translate(867.5 489.5) rotate(32) scale(0.78)"><path d="M0 6 C-4 4 -7 1 -6 -2 C-4 -2 -4 -4 -2 -4 C-2 -6 -1 -8 0 -9 C1 -8 2 -6 2 -4 C4 -4 4 -2 6 -2 C7 1 4 4 0 6Z" fill="#4f8b30"/><path d="M0 5 C-2 2 -2 -2 0 -7 C2 -2 2 2 0 5Z" fill="#7da63c"/></g>
<g transform="translate(869.9 486.9) rotate(-10) scale(0.89)"><path d="M0 6 C-4 4 -7 1 -6 -2 C-4 -2 -4 -4 -2 -4 C-2 -6 -1 -8 0 -9 C1 -8 2 -6 2 -4 C4 -4 4 -2 6 -2 C7 1 4 4 0 6Z" fill="#4f8b30"/><path d="M0 5 C-2 2 -2 -2 0 -7 C2 -2 2 2 0 5Z" fill="#7da63c"/></g>
<g transform="translate(869.2 494.6) rotate(-28) scale(0.79)"><path d="M0 6 C-4 4 -7 1 -6 -2 C-4 -2 -4 -4 -2 -4 C-2 -6 -1 -8 0 -9 C1 -8 2 -6 2 -4 C4 -4 4 -2 6 -2 C7 1 4 4 0 6Z" fill="#4f8b30"/><path d="M0 5 C-2 2 -2 -2 0 -7 C2 -2 2 2 0 5Z" fill="#7da63c"/></g>
<g id="tbeet">
<ellipse cx="1086" cy="498" rx="5" ry="11" transform="rotate(20 1086 498)" fill="#518830"/><ellipse cx="1100" cy="516" rx="8" ry="3.6" fill="#518830"/>
<g fill="#518830"><circle cx="1084" cy="505" r="4.5"/><circle cx="1082" cy="498" r="4.5"/><circle cx="1086" cy="491" r="4.3"/><circle cx="1091" cy="487" r="3.6"/><circle cx="1090" cy="496" r="4"/></g>
<g fill="#518830"><circle cx="1094" cy="514" r="4.5"/><circle cx="1101" cy="517" r="4.5"/><circle cx="1108" cy="516" r="3.5"/></g>
<ellipse cx="1097" cy="505" rx="10" ry="4.2" transform="rotate(-18 1097 505)" fill="#7ba232"/>
<g fill="#7ba232"><circle cx="1089" cy="508" r="4.5"/><circle cx="1096" cy="504" r="5"/><circle cx="1103" cy="502" r="4.5"/><circle cx="1107" cy="505" r="3.2"/></g>
<path d="M1082 512 Q1094 502 1104 502" stroke="#9cc25a" stroke-width="0.8" fill="none"/>
<ellipse cx="1074.5" cy="514" rx="8.5" ry="16" transform="rotate(-28 1074.5 514)" fill="#dfc194"/>
<path d="M1050 524 C1055 517 1060 505 1066 499 C1066 510 1072 522 1078 529 C1068 527 1058 522 1050 524Z" fill="#97b8e0"/>
<path d="M1058 512 C1062 516 1068 522 1076 526 C1068 526 1060 523 1054 521Z" fill="#86a8d4"/>
</g>
<!-- big beet circle -->
<circle cx="196" cy="771" r="76" fill="#f2eee4"/>
<rect x="207" y="748" width="225" height="81" fill="#b8d8e8"/>
<rect x="202" y="743" width="225" height="80.6" fill="#0ba7cf"/>
<g>
<g fill="#4f7f2f">
<ellipse cx="160" cy="700" rx="25" ry="15" transform="rotate(35 160 700)"/>
<circle cx="141" cy="678" r="7"/><circle cx="152" cy="678" r="7"/><circle cx="140" cy="693" r="7.5"/><circle cx="162" cy="690" r="8"/><circle cx="158" cy="715" r="9"/><circle cx="173" cy="713" r="8"/><circle cx="147" cy="705" r="6.5"/>
<ellipse cx="228" cy="690" rx="27" ry="15" transform="rotate(-55 228 690)"/>
<circle cx="245" cy="668" r="7"/><circle cx="235" cy="666" r="7"/><circle cx="245" cy="683" r="7.5"/><circle cx="226" cy="680" r="8"/><circle cx="232" cy="705" r="9"/><circle cx="218" cy="712" r="8"/>
</g>
<g fill="#7a9d33">
<ellipse cx="199" cy="692" rx="15" ry="28"/>
<circle cx="203" cy="661" r="7"/><circle cx="192" cy="674" r="9"/><circle cx="210" cy="676" r="8.5"/><circle cx="187" cy="697" r="9.5"/><circle cx="211" cy="700" r="9"/><circle cx="199" cy="712" r="8"/>
</g>
<g stroke="#8cb24c" stroke-width="2.6" fill="none" stroke-linecap="round">
<path d="M193 735 C188 724 182 716 176 708"/><path d="M199 735 C199 722 199 712 200 700"/><path d="M205 735 C207 726 210 718 214 710"/>
</g>
<g stroke="#8cb24c" stroke-width="1" fill="none">
<path d="M176 708 C166 698 158 690 148 686"/><path d="M200 700 C200 688 201 676 203 668"/><path d="M214 710 C222 700 230 690 238 683"/>
</g>
<path d="M151 761 C149 744 168 734 196 734 C224 734 243 744 241 761 C230 764 215 759 196 763 C178 759 165 764 151 761Z" fill="#dec394"/>
<path d="M220 736 C236 741 243 750 241 761 C234 762 228 760 222 761 C226 752 226 744 220 736Z" fill="#cfa67c"/>
<path d="M204 744 C214 742 222 746 225 750" stroke="#cfa67c" stroke-width="2.6" fill="none" stroke-linecap="round"/>
<path d="M152 763 C160 760 166 764 176 762 C190 759 200 764 215 761 C228 759 234 763 241 762 C240 773 228 790 214 808 C206 820 202 830 197 831 C192 831 191 825 187 812 C176 794 156 778 152 763Z" fill="#97b8e0"/>
<path d="M241 762 C240 773 228 790 214 808 C206 820 202 830 197 831 C204 812 212 796 222 780 C230 770 234 764 241 762Z" fill="#84a5cc"/>
<path d="M198 777 C206 774 214 776 218 778 M194 795 C202 792 208 794 212 796 M192 811 C198 808 204 810 206 812" stroke="#87a8d0" stroke-width="2.4" fill="none" stroke-linecap="round"/>
</g>
<!-- dotted circle -->
<g fill="#22204a"><circle cx="686.3" cy="780.8" r="2.2"/><circle cx="681.1" cy="773.0" r="2.2"/><circle cx="676.8" cy="764.7" r="2.2"/><circle cx="673.3" cy="756.0" r="2.2"/><circle cx="670.9" cy="746.9" r="2.2"/><circle cx="669.4" cy="737.7" r="2.2"/><circle cx="669.0" cy="728.3" r="2.2"/><circle cx="669.6" cy="719.0" r="2.2"/><circle cx="671.2" cy="709.7" r="2.2"/><circle cx="673.8" cy="700.7" r="2.2"/><circle cx="677.3" cy="692.1" r="2.2"/><circle cx="681.8" cy="683.9" r="2.2"/><circle cx="687.1" cy="676.2" r="2.2"/><circle cx="693.3" cy="669.1" r="2.2"/><circle cx="700.2" cy="662.7" r="2.2"/><circle cx="707.7" cy="657.2" r="2.2"/><circle cx="715.8" cy="652.5" r="2.2"/><circle cx="724.3" cy="648.6" r="2.2"/><circle cx="733.3" cy="645.8" r="2.2"/><circle cx="742.4" cy="643.9" r="2.2"/><circle cx="751.8" cy="643.1" r="2.2"/><circle cx="761.1" cy="643.2" r="2.2"/><circle cx="770.4" cy="644.4" r="2.2"/><circle cx="779.5" cy="646.6" r="2.2"/><circle cx="788.3" cy="649.7" r="2.2"/><circle cx="796.8" cy="653.8" r="2.2"/><circle cx="804.7" cy="658.8" r="2.2"/><circle cx="825.7" cy="680.0" r="2.2"/><circle cx="830.5" cy="687.9" r="2.2"/><circle cx="834.5" cy="696.2" r="2.2"/><circle cx="837.6" cy="704.9" r="2.2"/><circle cx="839.7" cy="713.9" r="2.2"/><circle cx="840.8" cy="723.0" r="2.2"/><circle cx="840.9" cy="732.2" r="2.2"/><circle cx="840.1" cy="741.4" r="2.2"/><circle cx="838.3" cy="750.4" r="2.2"/><circle cx="835.5" cy="759.2" r="2.2"/><circle cx="831.8" cy="767.7" r="2.2"/><circle cx="827.2" cy="775.7" r="2.2"/><circle cx="821.8" cy="783.1" r="2.2"/><circle cx="815.7" cy="790.0" r="2.2"/><circle cx="808.8" cy="796.1" r="2.2"/><circle cx="801.3" cy="801.5" r="2.2"/><circle cx="793.3" cy="806.0" r="2.2"/><circle cx="784.8" cy="809.7" r="2.2"/><circle cx="776.0" cy="812.4" r="2.2"/><circle cx="767.0" cy="814.2" r="2.2"/><circle cx="757.8" cy="815.0" r="2.2"/><circle cx="748.6" cy="814.8" r="2.2"/><circle cx="739.4" cy="813.6" r="2.2"/><circle cx="730.5" cy="811.4" r="2.2"/><circle cx="721.8" cy="808.3" r="2.2"/><circle cx="713.5" cy="804.3" r="2.2"/><circle cx="705.7" cy="799.4" r="2.2"/></g>
<path d="M805 670 L820 654 L820 669 Z" fill="#22204a"/>
<path d="M705 789 L691 804 L691 789 Z" fill="#22204a"/>

<!-- factory -->
<defs>
<symbol id="beet" viewBox="0 0 40 52">
<path d="M20 27 C14 27 5 24 2 17 C1 14 3 12 5 13 C5 10 8 8.5 10.5 10.5 C11.5 8 15 8 16 11 C18 15 20 21 20 27Z" fill="#4f8b34"/>
<path d="M20 27 C26 27 35 24 38 17 C39 14 37 12 35 13 C35 10 32 8.5 29.5 10.5 C28.5 8 25 8 24 11 C22 15 20 21 20 27Z" fill="#4f8b34"/>
<path d="M20 28 C16 24 14 18 15 12 C14 9 16 6 18 7 C18 4 19 2 20 2 C21 2 22 4 22 7 C24 6 26 9 25 12 C26 18 24 24 20 28Z" fill="#7da63c"/>
<path d="M20 27 V8 M20 24 L9 14 M20 24 L31 14" stroke="#9cc25a" stroke-width="0.7" fill="none"/>
<path d="M6 33 C6 28 12 25 20 25 C28 25 34 28 34 33Z" fill="#dcc093"/>
<path d="M6 32 C6 37 10 40 14 44 L19 51 Q20 52 21 51 L26 44 C30 40 34 37 34 32 C28 33 26 31 20 32 C14 33 12 31 6 32Z" fill="#97b8e0"/>
<path d="M34 32 C34 37 30 40 26 44 L21 51 Q24 42 28 36 C30 34 32 33 34 32Z" fill="#86a6d2"/>
</symbol>
<symbol id="beetL" viewBox="0 0 52 40">
<path d="M26 20 C24 14 22 6 14 5 C14 9 10 10 12 14 C7 14 5 18 2 20 C5 22 7 26 12 26 C10 30 14 31 14 35 C22 34 24 26 26 20Z" fill="#4f8b34" transform="translate(52 0) scale(-1 1)"/>
<path d="M32 6 C26 6 24 13 24 20 C24 27 26 34 32 34 Z" fill="#dcc093"/>
<path d="M31 6 C26 6 23 10 19 14 L1 19 Q0 20 1 21 L19 26 C23 30 26 34 31 34 Z" fill="#97b8e0"/>
</symbol>
</defs>
<!-- cream box 1 -->
<rect x="1134" y="327" width="166" height="78" rx="20" fill="#f2eee4"/>
<rect x="1149" y="338" width="141" height="9" rx="4" fill="#ffffff"/>
<g fill="#22204a">
<circle cx="1159" cy="341.7" r="1.6"/><circle cx="1188.5" cy="341.7" r="1.6"/><circle cx="1218" cy="341.7" r="1.6"/><circle cx="1246.5" cy="341.7" r="1.6"/><circle cx="1275" cy="341.7" r="1.6"/>
</g>
<g stroke="#2fa6d8" stroke-width="1" stroke-dasharray="2 2">
<path d="M1159 346 L1151 357 M1159 346 V357 M1159 346 L1167 357"/>
<path d="M1188.5 346 L1180.5 357 M1188.5 346 V357 M1188.5 346 L1196.5 357"/>
<path d="M1218 346 L1210 357 M1218 346 V357 M1218 346 L1226 357"/>
<path d="M1246.5 346 L1238.5 357 M1246.5 346 V357 M1246.5 346 L1254.5 357"/>
<path d="M1275 346 L1267 357 M1275 346 V357 M1275 346 L1283 357"/>
</g>
<use href="#beet" x="1145" y="354" width="28" height="38"/>
<use href="#beet" x="1175.5" y="354" width="28" height="38"/>
<use href="#beet" x="1204" y="354" width="28" height="38"/>
<use href="#beet" x="1232.5" y="354" width="28" height="38"/>
<use href="#beet" x="1261" y="354" width="28" height="38"/>
<!-- washer machine -->
<path d="M1181 400 L1196 395 H1246 V474 L1235 478 H1181 Z" fill="#4e4e50"/>
<rect x="1185" y="401" width="50" height="76" fill="#6b7a84"/>
<g fill="none" stroke="#4e4e50" stroke-width="1.5" stroke-dasharray="1.5 1.5"><path d="M1183 402 V476"/></g>
<circle cx="1208" cy="421" r="15.6" fill="#4e4e50"/><circle cx="1208" cy="421" r="11.6" fill="#f2eee4"/>
<circle cx="1208" cy="458" r="15.6" fill="#4e4e50"/><circle cx="1208" cy="458" r="11.6" fill="#f2eee4"/>
<use href="#beet" x="1201" y="411" width="14" height="19"/>
<use href="#beet" x="1201" y="448" width="14" height="19"/>
<!-- beets on conveyor -->
<use href="#beetL" x="1251" y="420" width="18" height="14"/>
<use href="#beetL" x="1270" y="420" width="18" height="14"/>
<use href="#beetL" x="1289" y="420" width="18" height="14"/>
<use href="#beetL" x="1258" y="428" width="18" height="14"/>
<use href="#beetL" x="1277" y="428" width="18" height="14"/>
<use href="#beetL" x="1296" y="428" width="18" height="14"/>
<use href="#beetL" x="1249" y="433" width="18" height="14"/>
<use href="#beetL" x="1268" y="436" width="18" height="14"/>
<use href="#beetL" x="1287" y="436" width="18" height="14"/>
<!-- diffusion tank -->
<rect x="1322" y="409" width="173.5" height="48" rx="16" fill="#154c5e"/>
<path d="M1338 409 H1479.5 A16 16 0 0 1 1495.5 425 V435.6 H1322 V425 A16 16 0 0 1 1338 409Z" fill="#4c7a80"/>
<rect x="1332.6" y="418" width="149.1" height="29.5" rx="5" fill="#11a8d6"/>
<path d="M1337.6 418 H1476.7 A5 5 0 0 1 1481.7 423 V435 C1460 435.5 1450 433.5 1430 434.5 C1410 435.5 1395 433.8 1380 435 C1365 436 1350 434.5 1332.6 435.5 V423 A5 5 0 0 1 1337.6 418Z" fill="#62aba8"/>
<g stroke="#4c7a80" stroke-width="0.9"><path d="M1372.5 418 V432 M1407.6 418 V432 M1447.5 418 V432"/></g>
<g stroke="#154c5e" stroke-width="1"><path d="M1361.5 434 V447.5 M1397.7 434 V447.5 M1436.6 434 V447.5"/></g>
<path d="M1337.0 441.0 L1346.0 438.5 Q1348.0 441.0 1346.0 443.5 Z" fill="#e8c08c"/>
<path d="M1345.0 436.0 L1353.0 434.0 Q1355.0 436.0 1353.0 438.0 Z" fill="#e8c08c"/>
<path d="M1358.0 439.0 L1350.0 436.8 Q1348.0 439.0 1350.0 441.2 Z" fill="#e8c08c"/>
<path d="M1386.1 443.3 L1379.1 442.0 Q1377.1 443.3 1379.1 444.6 Z" fill="#e8c08c"/>
<path d="M1392.8 443.3 L1385.8 442.0 Q1383.8 443.3 1385.8 444.6 Z" fill="#e8c08c"/>
<path d="M1373.6 441.0 L1366.6 439.7 Q1364.6 441.0 1366.6 442.3 Z" fill="#e8c08c"/>
<path d="M1378.6 444.7 L1385.6 443.4 Q1387.6 444.7 1385.6 446.0 Z" fill="#e8c08c"/>
<path d="M1382.9 439.1 L1375.9 437.8 Q1373.9 439.1 1375.9 440.4 Z" fill="#e8c08c"/>
<path d="M1377.1 437.1 L1384.1 435.8 Q1386.1 437.1 1384.1 438.4 Z" fill="#e8c08c"/>
<path d="M1415.7 444.8 L1408.7 443.5 Q1406.7 444.8 1408.7 446.1 Z" fill="#e8c08c"/>
<path d="M1404.8 443.8 L1411.8 442.5 Q1413.8 443.8 1411.8 445.1 Z" fill="#e8c08c"/>
<path d="M1415.8 438.1 L1422.8 436.8 Q1424.8 438.1 1422.8 439.4 Z" fill="#e8c08c"/>
<path d="M1421.9 438.8 L1428.9 437.5 Q1430.9 438.8 1428.9 440.1 Z" fill="#e8c08c"/>
<path d="M1424.6 444.4 L1431.6 443.1 Q1433.6 444.4 1431.6 445.7 Z" fill="#e8c08c"/>
<path d="M1432.1 441.6 L1425.1 440.3 Q1423.1 441.6 1425.1 442.9 Z" fill="#e8c08c"/>
<path d="M1454.1 445.0 L1447.1 443.7 Q1445.1 445.0 1447.1 446.3 Z" fill="#e8c08c"/>
<path d="M1469.0 444.6 L1476.0 443.3 Q1478.0 444.6 1476.0 445.9 Z" fill="#e8c08c"/>
<path d="M1450.8 438.4 L1457.8 437.1 Q1459.8 438.4 1457.8 439.7 Z" fill="#e8c08c"/>
<path d="M1450.0 439.6 L1443.0 438.3 Q1441.0 439.6 1443.0 440.9 Z" fill="#e8c08c"/>
<path d="M1440.1 442.8 L1447.1 441.5 Q1449.1 442.8 1447.1 444.1 Z" fill="#e8c08c"/>
<path d="M1449.3 444.0 L1456.3 442.7 Q1458.3 444.0 1456.3 445.3 Z" fill="#e8c08c"/>
<path d="M1457.5 441.1 L1450.5 439.8 Q1448.5 441.1 1450.5 442.4 Z" fill="#e8c08c"/>
<path d="M1441.7 445.3 L1448.7 444.0 Q1450.7 445.3 1448.7 446.6 Z" fill="#e8c08c"/>
<path d="M1462.5 444.2 L1469.5 442.9 Q1471.5 444.2 1469.5 445.5 Z" fill="#e8c08c"/>
<circle cx="1351.6" cy="460" r="3.8" fill="#154c5e"/><rect x="1347.8" y="455" width="7.6" height="5" fill="#154c5e"/>
<circle cx="1467.5" cy="460" r="3.8" fill="#154c5e"/><rect x="1463.7" y="455" width="7.6" height="5" fill="#154c5e"/>
<!-- tank 3 -->
<path d="M1574 472 V400 A24.2 24.2 0 0 1 1622.6 400 V472 Z" fill="#6e8f9a"/>
<path d="M1598 375.5 A24.5 24.5 0 0 1 1622.6 400 V472 H1606.8 V400 A21 24.5 0 0 0 1590 377 Z" fill="#0b6577"/>
<rect x="1574" y="402.8" width="48.6" height="2.4" fill="#eeeae0"/>
<path d="M1622.6 410.5 H1634 V472" fill="none" stroke="#8a9397" stroke-width="3.2"/>
<!-- tank 4 -->
<path d="M1707 409 V481 A36.5 7 0 0 0 1780 481 V409Z" fill="#0b6577"/>
<ellipse cx="1743.5" cy="409" rx="36.5" ry="7" fill="#6e8f9a"/>
<path d="M1714 394 V400 A30.5 5.5 0 0 0 1775 400 V394Z" fill="#0b6577"/>
<ellipse cx="1744.5" cy="394" rx="30.5" ry="5" fill="#6e8f9a"/>
<circle cx="1743.5" cy="448" r="27.5" fill="#6e8f9a"/>
<circle cx="1743.5" cy="448" r="25" fill="#f6b952"/>
<g fill="#f2eee4" stroke="#9a9ba3" stroke-width="1.5">
<circle cx="1743" cy="434" r="3"/><circle cx="1731" cy="446" r="3.5"/><circle cx="1757" cy="444" r="3.5"/><circle cx="1744" cy="449" r="2.5"/><circle cx="1736" cy="462" r="3"/><circle cx="1752" cy="460" r="3"/>
</g>
<!-- sugar sack -->
<path d="M1820 420 C1819 432 1818 444 1818 453 C1826 460 1840 464 1852 464 C1866 464 1878 458 1886 453 C1883 444 1882 432 1882 420 Z" fill="#a8773a"/>
<path d="M1821 408.5 C1820 414 1820 418 1821 422 C1840 430 1862 430 1881.7 421 C1882 416 1882 412 1881 408 C1862 410 1840 410 1821 408.5Z" fill="#bd8a47"/>
<path d="M1825.5 408.5 C1834 400 1844 394 1851 393.7 C1860 394 1870 400 1877 406.4 C1862 412 1840 413 1825.5 408.5Z" fill="#efe8da"/>
<g fill="#f2ece0" stroke="#ddd3c2" stroke-width="0.6">
<rect x="1845" y="460.6" width="11.5" height="9.4"/><rect x="1856.5" y="460.6" width="11.5" height="9.4"/><rect x="1868" y="460.6" width="11.5" height="9.4"/>
<rect x="1852" y="451.5" width="11.2" height="9.4"/><rect x="1863.2" y="451.5" width="11.2" height="9.4"/>
<rect x="1856" y="442.5" width="13" height="9.4"/>
</g>
<!-- woman -->
<path d="M1896 343.8 C1889 343.8 1886 349 1886 354 C1886 360 1884 363 1886 366 C1888 368 1892 364 1893 360 L1900 360 C1902 364 1905 368 1907 366 C1906 360 1905 356 1905 351 C1904 346 1900 343.8 1896 343.8Z" fill="#2b3b6b"/>
<ellipse cx="1895.5" cy="354" rx="4.3" ry="4.6" fill="#f4ad7a"/>
<path d="M1888 363 C1885 366 1883 372 1882.8 375 L1886 376 C1886 390 1887 400 1887 410.7 H1910 L1911.5 407.5 C1908 396 1906 386 1906 376 L1909 375 C1908 370 1906 365 1903 363Z" fill="#f29a45"/>
<path d="M1904 376 C1906 388 1908 398 1911.5 407.5 L1906 409Z" fill="#ef8a2f"/>
<rect x="1883.5" y="372.5" width="4.5" height="9" rx="2" fill="#f4ad7a"/><rect x="1904.5" y="372.5" width="4" height="9" rx="2" fill="#f4ad7a"/>
<rect x="1890.8" y="358" width="10" height="14.5" fill="#e4505f"/>
<rect x="1893" y="361" width="5.5" height="7" fill="none" stroke="#f4d6d6" stroke-width="0.8"/>
<rect x="1889.7" y="410.7" width="6.6" height="19.5" fill="#f4ad7a"/><rect x="1897.5" y="410.7" width="7" height="19.5" fill="#f4ad7a"/>
<path d="M1891.3 429 H1897 V451 H1892Z M1898 429 H1904.6 L1904 451 H1898.5Z" fill="#283a6a"/>
<!-- worker near tan (woman with tablet) -->
<path d="M1096 399 H1116.8 L1115.5 442 H1110 L1107 410 L1101.5 442 H1096Z" fill="#373a5e"/>
<path d="M1094.7 447.6 Q1095 442 1099 442 H1102 L1105.7 447.6Z M1108 447.6 Q1108 442 1111 442 H1115 L1122 447.6Z" fill="#2f3156"/>
<path d="M1095 368 Q1096 365.8 1100 365.8 H1113 Q1117 366 1117 370 V399 H1094 Z" fill="#c8d84a"/>
<rect x="1094" y="381" width="23" height="2.3" fill="#ffffff"/><rect x="1094" y="387.4" width="23" height="2.8" fill="#ffffff"/>
<path d="M1112 371 Q1116 370 1116.5 374 L1117 390 L1127 384 L1128 387 L1116 394 Q1113 395 1112.5 392Z" fill="#aeaad6"/>
<path d="M1117 386.5 L1132.4 381.5 L1131 384 L1118 388.5Z" fill="#2c2e50"/>
<circle cx="1127.5" cy="385.5" r="1.6" fill="#f3a57a"/>
<path d="M1107.6 358 H1115 Q1116.5 362 1115 366.8 H1109 Z" fill="#f3a57a"/>
<path d="M1104 359 C1100 362 1099 368 1099.8 373 C1102 370 1104 366 1106 362Z" fill="#2b2f5a"/>
<path d="M1102.5 359.4 C1102.5 353 1106 351 1110 351 C1114 351 1117 354 1117 358 L1119 360 H1102.5Z" fill="#ee7b4c"/>
<path d="M1104 360 L1109 357" stroke="#ffffff" stroke-width="1.2"/>
<!-- worker below diffusion -->
<path d="M1464.5 502 H1488 L1486.5 554 H1481 L1477 520 L1473.5 554 H1467Z" fill="#373a5e"/>
<path d="M1459 558.6 Q1460 554 1466 554 H1475 V558.6Z M1480 558.6 V554 H1486 L1487.5 558.6Z" fill="#2f3156"/>
<path d="M1488 470 Q1494 470 1495 476 L1495.5 495 H1489Z" fill="#aeaad6"/>
<path d="M1440 473 L1460 479 L1461 491.5 L1448 487Z" fill="#e8eef6"/>
<path d="M1467 469 Q1462 470 1459 478 L1455 485 L1446 482 L1445 486 L1457 492 Q1462 493 1466 484Z" fill="#aeaad6"/>
<circle cx="1445.5" cy="484" r="2.2" fill="#f3a57a"/>
<path d="M1466 467 H1490 V502.5 H1464 Z" fill="#f6ea8a"/>
<rect x="1464" y="488.3" width="26" height="2.7" fill="#ffffff"/><rect x="1464" y="494.7" width="26" height="2.8" fill="#ffffff"/>
<path d="M1472 461 H1484 L1482 466 H1474Z" fill="#2b2f5a"/>
<path d="M1473 461 Q1478 464 1483 461" stroke="#ffffff" stroke-width="1.4" fill="none"/>
<path d="M1471 461 C1471 454 1474 450.6 1477.5 450.6 C1481 450.6 1484 454 1484 461Z" fill="#ee7b4c"/>

<!-- pond -->
<!-- pond -->
<g>
<path d="M1208 915 V960 A132.5 28 0 0 0 1473 960 V915 Z" fill="#6c8f9b"/>
<ellipse cx="1340.5" cy="915" rx="132.5" ry="28" fill="#0b6577"/>
<path d="M1208 915 C1208 905 1260 897 1340.5 897 C1421 897 1473 905 1473 915 A132.5 28 0 0 1 1208 915Z" fill="#0fa8d0"/>
<g fill="#7dbad2">
<path d="M1252 909 C1268 904 1298 902 1310 906 C1316 910 1312 912 1304 911 C1290 909 1270 910 1252 909Z"/>
<path d="M1232 922 C1236 914 1250 916 1262 917 C1250 918 1240 922 1252 926 C1266 928 1290 926 1306 929 C1308 934 1300 937 1290 936 C1266 934 1240 934 1232 922Z"/>
<path d="M1378 933 C1400 930 1420 928 1440 926 C1442 922 1436 918 1426 916 C1436 914 1452 920 1454 924 C1446 934 1410 936 1378 933Z"/>
</g>
<path d="M1310 894 L1363 942" stroke="#9ab0b6" stroke-width="5"/>
<g fill="none" stroke="#9b9b9b" stroke-width="3">
<path d="M1209 936 C1196 950 1210 970 1260 976 C1300 980 1380 980 1420 976 C1470 970 1484 950 1471 936"/>
<path d="M1199 933 V977 M1481 933 V977 M1255.6 945 V988 M1312 951 V995 M1368 951 V995 M1424.6 951 V995"/>
</g>
</g>
<!-- epuration tank -->
<g>
<path d="M1362 693 V682 H1333 V722 H1318 V744" fill="none" stroke="#4d7e8b" stroke-width="3"/>
<rect x="1346" y="688" width="8" height="7" fill="#1b6378"/>
<circle cx="1322.5" cy="705" r="3.6" fill="#dde3e2" stroke="#8aa" stroke-width="1"/>
<path d="M1318 744 V746" fill="none" stroke="#4d7e8b" stroke-width="3"/>
<rect x="1313" y="726" width="5" height="3" fill="#1b6378"/>
<path d="M1317 753 C1315 756 1315 758 1317 758 C1319 758 1319 756 1317 753Z" fill="#13a6d8"/>
<path d="M1339 700 C1339 694 1348 693 1361 693 C1374 693 1388 694 1388 700 V772 H1339Z" fill="#6e8f9a"/>
<g fill="#96adb3"><rect x="1338" y="711" width="52" height="3"/><rect x="1338" y="735" width="52" height="3"/><rect x="1338" y="759" width="52" height="3"/></g>
<rect x="1334" y="772" width="59" height="6" fill="#5f6d72"/>
</g>

<!-- field -->
<defs>
<symbol id="plant" viewBox="0 0 40 36" overflow="visible">
<path d="M20 36 C14 36 6 32 2 26 C0 22 4 20 7 22 C5 18 6 14 10 15 C10 11 13 9 15 11 C15 7 18 4 20 3 C22 4 25 7 25 11 C27 9 30 11 30 15 C34 14 35 18 33 22 C36 20 40 22 38 26 C34 32 26 36 20 36Z" fill="#4f8b30"/>
<path d="M20 35 C14 31 12 24 13 17 C13 12 16 10 17 12 C17 7 19 4 20 4 C21 4 23 7 23 12 C24 10 27 12 27 17 C28 24 26 31 20 35Z" fill="#86ae38"/>
<path d="M20 34 V10" stroke="#a9c860" stroke-width="0.8"/>
</symbol>
<symbol id="sprout" viewBox="0 0 20 40" overflow="visible">
<path d="M10 40 V4" stroke="#3f8a3a" stroke-width="1.4"/>
<g fill="#4f9a3e">
<ellipse cx="5" cy="8" rx="4.5" ry="2.5" transform="rotate(-25 5 8)"/><ellipse cx="15" cy="6" rx="4.5" ry="2.5" transform="rotate(25 15 6)"/>
<ellipse cx="4" cy="18" rx="5" ry="2.6" transform="rotate(-20 4 18)"/><ellipse cx="16" cy="16" rx="5" ry="2.6" transform="rotate(20 16 16)"/>
<ellipse cx="5" cy="28" rx="5" ry="2.6" transform="rotate(-15 5 28)"/><ellipse cx="15" cy="27" rx="5" ry="2.6" transform="rotate(15 15 27)"/>
<ellipse cx="10" cy="3" rx="2.5" ry="3.5"/>
</g>
</symbol>
<clipPath id="fieldclip2"><path d="M94 1090 C92 1070 96 1060 104 1050 L150 1020 L168 1006 C200 998 240 996 262 1002 C290 1006 320 1008 345 1013 C400 1022 470 1036 560 1034 L560 1060 C640 1058 720 1058 786 1062 C812 1068 830 1090 829 1112 C828 1140 790 1160 740 1166 C640 1178 420 1176 320 1170 C200 1164 98 1126 94 1090Z"/></clipPath>
<clipPath id="fieldclip"><path d="M94 1090 C96 1082 100 1078 106 1074 L150 1044 L168 1030 C200 1022 240 1020 262 1026 C290 1030 320 1032 345 1037 C400 1046 470 1060 560 1058 C640 1058 720 1058 786 1062 C812 1068 830 1090 829 1112 C828 1140 790 1160 740 1166 C640 1178 420 1176 320 1170 C200 1164 98 1126 94 1090Z"/></clipPath>
</defs>
<path d="M236 1024 C300 1000 420 994 500 998 C570 1002 620 1030 640 1060 L400 1060Z" fill="#fae690"/>
<g fill="none" stroke="#f6d94c" stroke-width="4">
<path d="M250 1020 C320 998 440 994 520 1000 C580 1006 620 1028 640 1050"/>
<path d="M300 1030 C360 1012 460 1008 530 1014 C590 1020 620 1040 636 1060"/>
<path d="M340 1044 C400 1028 480 1024 540 1030 C590 1036 615 1050 630 1064"/>
</g>
<path d="M94 1090 C96 1082 100 1078 106 1074 L150 1044 L168 1030 C200 1022 240 1020 262 1026 C290 1030 320 1032 345 1037 C400 1046 470 1060 560 1058 C640 1058 720 1058 786 1062 C812 1068 830 1090 829 1112 C828 1140 790 1160 740 1166 C640 1178 420 1176 320 1170 C200 1164 98 1126 94 1090Z" fill="#6b3a1e"/>
<g fill="#6b3a1e"><circle cx="104" cy="1082.0" r="7.5"/><circle cx="116" cy="1072.0" r="7.5"/><circle cx="130" cy="1062.0" r="7.5"/><circle cx="143" cy="1054.0" r="7.5"/><circle cx="156" cy="1044.0" r="7.5"/><circle cx="170" cy="1036.0" r="7.5"/><circle cx="186" cy="1032.0" r="7.5"/><circle cx="204" cy="1030.0" r="7.5"/><circle cx="222" cy="1028.0" r="7.5"/><circle cx="240" cy="1028.0" r="7.5"/><circle cx="258" cy="1031.0" r="7.5"/><circle cx="276" cy="1034.0" r="7.5"/><circle cx="294" cy="1035.0" r="7.5"/><circle cx="312" cy="1037.0" r="7.5"/><circle cx="330" cy="1040.0" r="7.5"/><circle cx="348" cy="1044.0" r="7.5"/><circle cx="366" cy="1048.0" r="7.5"/><circle cx="384" cy="1052.0" r="7.5"/></g>
<g clip-path="url(#fieldclip)">
<path d="M571 1056 C600 1080 640 1120 674 1175 L900 1175 L900 1040 Z" fill="#8a5d35"/>
</g>
<g clip-path="url(#fieldclip2)"><use href="#plant" x="157.3" y="1014.0" width="30.3" height="27.3"/><use href="#plant" x="196.1" y="1012.3" width="30.7" height="27.7"/><use href="#plant" x="231.9" y="1015.3" width="31.0" height="27.9"/><use href="#plant" x="263.0" y="1014.5" width="37.6" height="33.8"/><use href="#plant" x="301.7" y="1013.6" width="37.8" height="34.0"/><use href="#plant" x="336.2" y="1015.4" width="32.3" height="29.1"/><use href="#plant" x="140.3" y="1036.5" width="35.8" height="32.3"/><use href="#plant" x="176.8" y="1036.9" width="30.9" height="27.9"/><use href="#plant" x="213.7" y="1036.0" width="31.2" height="28.1"/><use href="#plant" x="248.2" y="1033.2" width="35.3" height="31.8"/><use href="#plant" x="285.6" y="1035.3" width="37.0" height="33.3"/><use href="#plant" x="319.1" y="1035.8" width="34.8" height="31.3"/><use href="#plant" x="356.3" y="1034.8" width="36.7" height="33.0"/><use href="#plant" x="395.9" y="1034.9" width="35.3" height="31.8"/><use href="#plant" x="424.9" y="1035.8" width="35.2" height="31.7"/><use href="#plant" x="469.8" y="1036.3" width="32.3" height="29.0"/><use href="#plant" x="87.8" y="1057.5" width="30.6" height="27.6"/><use href="#plant" x="121.1" y="1056.2" width="37.1" height="33.4"/><use href="#plant" x="162.4" y="1057.5" width="32.2" height="29.0"/><use href="#plant" x="192.8" y="1055.4" width="37.1" height="33.4"/><use href="#plant" x="236.0" y="1054.6" width="31.4" height="28.3"/><use href="#plant" x="264.9" y="1054.9" width="33.9" height="30.5"/><use href="#plant" x="305.7" y="1055.1" width="30.0" height="27.0"/><use href="#plant" x="338.1" y="1055.5" width="34.5" height="31.1"/><use href="#plant" x="378.6" y="1056.8" width="34.1" height="30.7"/><use href="#plant" x="413.7" y="1056.7" width="30.4" height="27.4"/><use href="#plant" x="448.7" y="1057.1" width="37.0" height="33.3"/><use href="#plant" x="485.8" y="1055.6" width="33.2" height="29.9"/><use href="#plant" x="517.6" y="1056.5" width="30.5" height="27.4"/><use href="#plant" x="552.9" y="1054.8" width="31.3" height="28.2"/><use href="#plant" x="102.6" y="1075.6" width="30.8" height="27.7"/><use href="#plant" x="138.4" y="1075.1" width="37.0" height="33.3"/><use href="#plant" x="178.9" y="1075.6" width="32.0" height="28.8"/><use href="#plant" x="213.3" y="1076.5" width="31.0" height="27.9"/><use href="#plant" x="251.9" y="1079.0" width="33.7" height="30.4"/><use href="#plant" x="286.5" y="1075.3" width="30.8" height="27.7"/><use href="#plant" x="318.4" y="1076.1" width="36.6" height="33.0"/><use href="#plant" x="352.5" y="1075.1" width="37.6" height="33.8"/><use href="#plant" x="393.1" y="1075.6" width="34.3" height="30.9"/><use href="#plant" x="423.3" y="1077.1" width="37.8" height="34.0"/><use href="#plant" x="468.9" y="1077.8" width="32.1" height="28.9"/><use href="#plant" x="498.8" y="1075.7" width="36.2" height="32.6"/><use href="#plant" x="537.9" y="1078.1" width="32.6" height="29.4"/><use href="#plant" x="568.8" y="1078.2" width="37.9" height="34.1"/><use href="#plant" x="90.6" y="1099.0" width="31.8" height="28.6"/><use href="#plant" x="125.0" y="1097.4" width="30.2" height="27.2"/><use href="#plant" x="156.2" y="1097.1" width="32.1" height="28.9"/><use href="#plant" x="196.8" y="1099.8" width="33.6" height="30.2"/><use href="#plant" x="232.7" y="1100.0" width="37.6" height="33.9"/><use href="#plant" x="267.0" y="1096.9" width="31.8" height="28.6"/><use href="#plant" x="300.1" y="1096.8" width="35.0" height="31.5"/><use href="#plant" x="342.3" y="1099.4" width="33.8" height="30.5"/><use href="#plant" x="377.9" y="1099.2" width="30.7" height="27.6"/><use href="#plant" x="411.2" y="1099.6" width="36.3" height="32.6"/><use href="#plant" x="450.3" y="1097.9" width="31.4" height="28.3"/><use href="#plant" x="484.1" y="1097.3" width="36.4" height="32.8"/><use href="#plant" x="523.2" y="1097.6" width="33.2" height="29.9"/><use href="#plant" x="559.9" y="1098.9" width="31.4" height="28.2"/><use href="#plant" x="586.4" y="1096.6" width="37.2" height="33.5"/><use href="#plant" x="106.1" y="1117.6" width="36.6" height="33.0"/><use href="#plant" x="145.4" y="1119.6" width="32.8" height="29.5"/><use href="#plant" x="179.3" y="1117.5" width="30.1" height="27.1"/><use href="#plant" x="216.7" y="1119.6" width="34.2" height="30.8"/><use href="#plant" x="251.0" y="1118.7" width="37.0" height="33.3"/><use href="#plant" x="288.6" y="1117.8" width="32.0" height="28.8"/><use href="#plant" x="319.0" y="1118.0" width="34.7" height="31.2"/><use href="#plant" x="356.6" y="1118.7" width="31.0" height="27.9"/><use href="#plant" x="396.4" y="1118.4" width="33.7" height="30.3"/><use href="#plant" x="430.0" y="1120.6" width="33.4" height="30.0"/><use href="#plant" x="468.2" y="1119.0" width="34.3" height="30.8"/><use href="#plant" x="501.4" y="1117.1" width="33.5" height="30.2"/><use href="#plant" x="533.3" y="1117.0" width="36.4" height="32.8"/><use href="#plant" x="569.5" y="1118.9" width="35.8" height="32.2"/><use href="#plant" x="609.4" y="1118.3" width="34.1" height="30.7"/><use href="#plant" x="89.0" y="1141.1" width="30.8" height="27.8"/><use href="#plant" x="124.4" y="1139.0" width="32.2" height="29.0"/><use href="#plant" x="160.9" y="1140.0" width="34.5" height="31.0"/><use href="#plant" x="197.3" y="1141.6" width="33.5" height="30.2"/><use href="#plant" x="231.9" y="1140.0" width="34.1" height="30.7"/><use href="#plant" x="268.4" y="1139.8" width="34.3" height="30.8"/><use href="#plant" x="302.0" y="1141.8" width="35.6" height="32.0"/><use href="#plant" x="343.0" y="1141.8" width="32.1" height="28.9"/><use href="#plant" x="374.1" y="1141.8" width="36.7" height="33.0"/><use href="#plant" x="408.3" y="1138.5" width="33.5" height="30.2"/><use href="#plant" x="445.3" y="1139.0" width="30.6" height="27.5"/><use href="#plant" x="482.8" y="1141.1" width="37.2" height="33.5"/><use href="#plant" x="515.6" y="1140.9" width="35.3" height="31.8"/><use href="#plant" x="550.3" y="1141.5" width="37.7" height="34.0"/><use href="#plant" x="589.2" y="1141.8" width="33.2" height="29.9"/></g>
<g clip-path="url(#fieldclip)">
<use href="#sprout" x="599.7" y="1045.1" width="11" height="24"/><use href="#sprout" x="619.4" y="1043.8" width="11" height="24"/><use href="#sprout" x="639.3" y="1045.9" width="11" height="24"/><use href="#sprout" x="658.1" y="1045.2" width="11" height="24"/><use href="#sprout" x="679.8" y="1043.1" width="11" height="24"/><use href="#sprout" x="699.3" y="1045.5" width="11" height="24"/><use href="#sprout" x="720.0" y="1043.3" width="11" height="24"/><use href="#sprout" x="741.9" y="1046.2" width="11" height="24"/><use href="#sprout" x="761.9" y="1043.4" width="11" height="24"/><use href="#sprout" x="779.1" y="1043.2" width="11" height="24"/><use href="#sprout" x="801.1" y="1044.1" width="11" height="24"/><use href="#sprout" x="818.5" y="1044.7" width="11" height="24"/><use href="#sprout" x="630.8" y="1063.4" width="11" height="24"/><use href="#sprout" x="648.2" y="1065.8" width="11" height="24"/><use href="#sprout" x="669.7" y="1063.3" width="11" height="24"/><use href="#sprout" x="691.8" y="1065.5" width="11" height="24"/><use href="#sprout" x="711.2" y="1063.3" width="11" height="24"/><use href="#sprout" x="731.4" y="1063.3" width="11" height="24"/><use href="#sprout" x="751.5" y="1064.8" width="11" height="24"/><use href="#sprout" x="769.4" y="1065.2" width="11" height="24"/><use href="#sprout" x="791.7" y="1064.1" width="11" height="24"/><use href="#sprout" x="808.5" y="1065.1" width="11" height="24"/><use href="#sprout" x="829.0" y="1063.4" width="11" height="24"/><use href="#sprout" x="638.7" y="1084.4" width="11" height="24"/><use href="#sprout" x="658.1" y="1084.0" width="11" height="24"/><use href="#sprout" x="678.1" y="1085.9" width="11" height="24"/><use href="#sprout" x="700.2" y="1083.8" width="11" height="24"/><use href="#sprout" x="719.9" y="1086.7" width="11" height="24"/><use href="#sprout" x="738.4" y="1086.3" width="11" height="24"/><use href="#sprout" x="759.7" y="1085.0" width="11" height="24"/><use href="#sprout" x="781.3" y="1084.6" width="11" height="24"/><use href="#sprout" x="800.0" y="1085.8" width="11" height="24"/><use href="#sprout" x="821.9" y="1084.4" width="11" height="24"/><use href="#sprout" x="651.0" y="1104.0" width="11" height="24"/><use href="#sprout" x="668.7" y="1103.3" width="11" height="24"/><use href="#sprout" x="691.4" y="1106.5" width="11" height="24"/><use href="#sprout" x="710.7" y="1104.1" width="11" height="24"/><use href="#sprout" x="729.0" y="1104.2" width="11" height="24"/><use href="#sprout" x="749.8" y="1103.6" width="11" height="24"/><use href="#sprout" x="769.8" y="1104.1" width="11" height="24"/><use href="#sprout" x="791.8" y="1106.9" width="11" height="24"/><use href="#sprout" x="810.2" y="1104.0" width="11" height="24"/><use href="#sprout" x="831.9" y="1104.2" width="11" height="24"/><use href="#sprout" x="678.1" y="1124.2" width="11" height="24"/><use href="#sprout" x="698.9" y="1125.3" width="11" height="24"/><use href="#sprout" x="720.1" y="1126.0" width="11" height="24"/><use href="#sprout" x="740.6" y="1125.9" width="11" height="24"/><use href="#sprout" x="761.5" y="1124.6" width="11" height="24"/><use href="#sprout" x="779.3" y="1126.9" width="11" height="24"/><use href="#sprout" x="798.6" y="1125.9" width="11" height="24"/><use href="#sprout" x="820.6" y="1123.2" width="11" height="24"/><use href="#sprout" x="691.6" y="1145.7" width="11" height="24"/><use href="#sprout" x="710.8" y="1143.9" width="11" height="24"/><use href="#sprout" x="728.1" y="1143.5" width="11" height="24"/><use href="#sprout" x="749.4" y="1143.4" width="11" height="24"/><use href="#sprout" x="771.3" y="1145.2" width="11" height="24"/><use href="#sprout" x="790.5" y="1145.5" width="11" height="24"/><use href="#sprout" x="810.7" y="1145.0" width="11" height="24"/><use href="#sprout" x="828.0" y="1146.2" width="11" height="24"/>
<g stroke="#d9dbe0" stroke-width="2.6">
<path d="M148 1047 L330 1172"/><path d="M340 1044 L538 1172"/><path d="M576 1058 L745 1168"/><path d="M690 1058 L818 1140"/>
</g>
<g fill="#111"><circle cx="170" cy="1066" r="2.2"/><circle cx="232" cy="1100" r="2.2"/><circle cx="323" cy="1144" r="2.2"/><circle cx="400" cy="1090" r="2.2"/><circle cx="463" cy="1120" r="2.2"/><circle cx="522" cy="1160" r="2.2"/><circle cx="614" cy="1086" r="2.2"/><circle cx="666" cy="1124" r="2.2"/><circle cx="730" cy="1155" r="2.2"/><circle cx="704" cy="1072" r="2.2"/><circle cx="741" cy="1098" r="2.2"/><circle cx="780" cy="1114" r="2.2"/></g>
<g fill="none" stroke="#e8e4dc" stroke-width="0.9" opacity="0.9">
<path d="M170 1066 C150 1046 120 1042 95 1044 M170 1064 C150 1048 125 1046 98 1050"/>
<path d="M232 1100 C250 1080 280 1076 310 1078 M232 1098 C252 1082 282 1080 312 1084"/>
<path d="M323 1144 C300 1124 260 1120 220 1124 M323 1142 C302 1128 262 1126 222 1130"/>
<path d="M400 1090 C420 1070 460 1066 500 1070 M400 1088 C422 1074 462 1072 502 1076"/>
<path d="M522 1160 C540 1140 580 1134 620 1136 M522 1158 C542 1144 582 1140 622 1142"/>
<path d="M463 1120 C440 1100 400 1096 360 1100 M463 1118 C442 1104 402 1102 362 1106"/>
<path d="M614 1086 C630 1066 660 1060 690 1062 M614 1084 C632 1070 662 1066 692 1068"/>
<path d="M666 1124 C640 1104 600 1100 560 1104 M666 1122 C642 1108 602 1106 562 1110"/>
<path d="M741 1098 C720 1080 690 1076 660 1078 M741 1096 C722 1084 692 1082 662 1084"/>
<path d="M730 1155 C746 1136 780 1130 810 1130 M730 1153 C748 1140 782 1136 812 1136"/>
<path d="M780 1114 C800 1096 820 1092 840 1096 M780 1112 C800 1100 820 1098 840 1102"/>
<path d="M704 1072 C720 1056 744 1052 770 1054 M704 1070 C722 1060 746 1058 772 1060"/>
</g>
</g>
<g>
<rect x="691.6" y="1025" width="88.4" height="34" fill="#8fb4d3"/>
<g fill="#6d90ad"><rect x="735" y="1045" width="12" height="4"/><rect x="751" y="1045" width="12" height="4"/><rect x="766" y="1045" width="12" height="4"/></g>
<path d="M704 1040 L716 1029 L726 1040 V1059 H704Z" fill="#ffffff"/>
<path d="M716 1029 H765 L780 1040 H726Z" fill="#e05237"/>
<path d="M637.6 1030 L663 1005 L691.6 1030 V1059 H637.6Z" fill="#ffffff"/>
<path d="M628 1029.5 L656 995 H731 L759.5 1025 H697 L663 1004 L634 1030Z" fill="#e05237"/>
<rect x="656" y="1018" width="7" height="6" fill="#dc8a6a"/>
<rect x="648" y="1037" width="32" height="22" fill="#a36a50"/>
<path d="M648 1037 H680 L652 1059 H648Z" fill="#c98462"/>
</g>
<!-- tractor -->
<g>
<path d="M486 1048 H548 L552 1052 H486Z" fill="#5a5a5a"/>
<path d="M495 1040 L520 1048 L505 1050Z" fill="#8a8a8a"/>
<g fill="#555"><path d="M505 1052 L515 1052 L508 1063 L500 1064Z"/><path d="M520 1052 L530 1052 L523 1063 L515 1064Z"/><path d="M535 1052 L545 1052 L538 1063 L530 1064Z"/></g>
<rect x="433" y="1003" width="3" height="18" rx="1" fill="#333"/>
<path d="M441 1004 H473 L476 1038 H441Z" fill="#ffffff"/>
<path d="M443 1008 H458 V1036 H441Z" fill="#4ca3a6"/><path d="M461 1008 H472 L474 1036 H461Z" fill="#4ca3a6"/>
<path d="M410 1040 C410 1028 430 1024 450 1024 H478 C486 1026 488 1034 486 1052 H410Z" fill="#e64a57"/>
<rect x="400" y="1042" width="12" height="9" fill="#444"/>
<circle cx="420" cy="1051" r="13" fill="#222"/><circle cx="420" cy="1051" r="8" fill="#999"/><circle cx="420" cy="1051" r="3" fill="#777"/>
<circle cx="469.7" cy="1046.7" r="18.4" fill="#222"/><circle cx="469.7" cy="1046.7" r="12" fill="#9a9a9a"/><circle cx="469.7" cy="1046.7" r="4" fill="#777"/>
</g>
<!-- farmer -->
<g>
<path d="M551 1036 C551 1033 556 1032 561 1032 C566 1032 571 1033 571 1036 L573 1058 L568 1060 V1030Z" fill="#6c9ea8"/>
<path d="M554 1036 H568 V1075 H554Z" fill="#455830"/>
<path d="M553 1075 H569 L568 1104 H563 L561 1080 L559 1104 H554Z" fill="#455830"/>
<path d="M551 1037 L548 1060 L551 1061 L554 1040Z" fill="#6c9ea8"/>
<path d="M568 1040 L573 1056 L562 1058 L562 1055 L569 1053 L566 1040Z" fill="#6c9ea8"/>
<ellipse cx="560" cy="1027" rx="4.5" ry="5.5" fill="#e8b48c"/>
<path d="M555 1021 H565 V1024 H555Z" fill="#2a2a2a"/><path d="M556 1028 C557 1034 563 1034 564 1028Z" fill="#3a2a20"/>
<rect x="553" y="1103" width="6" height="9" fill="#6a4a38"/><rect x="562" y="1103" width="6" height="9" fill="#6a4a38"/>
<rect x="544" y="1051" width="12" height="5" fill="#b6b6b6"/>
</g>
<!-- distillery -->
<g>
<!-- chimney 1 -->
<path d="M1747 766 H1765 L1769 885 H1743Z" fill="#ffffff"/>
<path d="M1756 766 H1765 L1769 885 H1756Z" fill="#e3e0e1"/>
<rect x="1747" y="748" width="18" height="18" fill="#7a8288"/><rect x="1756" y="748" width="9" height="18" fill="#6f767c"/>
<rect x="1746" y="748" width="20" height="2" fill="#6f767c"/><rect x="1746" y="763" width="20" height="2" fill="#6f767c"/>
<rect x="1743" y="842" width="26" height="3" fill="#5e747c"/><rect x="1743" y="850" width="26" height="3" fill="#5e747c"/>
<!-- chimney 2 -->
<path d="M1796 760 H1814 V827 L1823 840 V885 H1787 V840 L1796 827Z" fill="#ffffff"/>
<path d="M1805 760 H1814 V827 L1823 840 V885 H1805Z" fill="#e3e0e1"/>
<rect x="1796" y="715" width="18" height="46" fill="#7a8288"/><rect x="1805" y="715" width="9" height="46" fill="#6f767c"/>
<g stroke="#5e747c" stroke-width="2" fill="none">
<path d="M1796 791 H1819 M1796 816 H1825 M1806 843 H1834 M1806 858 H1834 M1790 872 H1834"/>
<path d="M1797 791 L1808 816 M1815 816 L1830 843 M1812 843 L1820 858 M1812 858 L1818 872"/>
</g>
<!-- tank -->
<path d="M1844 815 C1844 804 1856 802 1864 802 C1872 802 1884 804 1884 815 V889 H1844Z" fill="#ffffff"/>
<path d="M1864 802 C1872 802 1884 804 1884 815 V889 H1864Z" fill="#e3e0e1"/>
<rect x="1843" y="822" width="38" height="2" fill="#5e747c"/>
<rect x="1875" y="816" width="1.5" height="74" fill="#5e747c"/><rect x="1878" y="816" width="1.5" height="74" fill="#5e747c"/>
<!-- pipes -->
<path d="M1716 889 V883 Q1716 881 1719 881 H1845 Q1848 881 1848 884 V889" fill="none" stroke="#5e747c" stroke-width="3.5"/>
<path d="M1734 881 V872 Q1734 868 1738 868 H1757" fill="none" stroke="#5e747c" stroke-width="3.5"/>
<path d="M1775 881 V853 Q1775 850 1779 850 H1802" fill="none" stroke="#5e747c" stroke-width="3.5"/>
<path d="M1862 868 H1889 Q1892 868 1892 871 V889" fill="none" stroke="#5e747c" stroke-width="3.5"/>
<!-- building -->
<rect x="1716.5" y="883.5" width="131" height="19.1" fill="#ffffff"/>
<rect x="1773" y="883.5" width="74.6" height="19.1" fill="#e3e0e1"/>
<g fill="#9ab5ba"><rect x="1730" y="894" width="13" height="3"/><rect x="1748" y="894" width="13" height="3"/><rect x="1767" y="894" width="13" height="3"/></g>
<path d="M1805 889 H1893 V903 H1805Z" fill="#5e747c"/>
<rect x="1706.5" y="902.6" width="196.5" height="8.4" rx="2" fill="#5e747c"/>
</g>

<!-- texts -->
<g fill="#22204a">
<circle cx="1138" cy="320" r="19"/>
<circle cx="1406" cy="395.5" r="19"/>
<circle cx="1597.6" cy="485.5" r="18.6"/>
<circle cx="1745" cy="379" r="18.6"/>
<circle cx="1293.4" cy="882.4" r="18.4"/>
<circle cx="1206" cy="1064.5" r="12"/>
<circle cx="1206" cy="1108.6" r="12"/>
<circle cx="1483" cy="1064.5" r="12"/>
<circle cx="1483" cy="1108.6" r="12"/>
<circle cx="1687" cy="1064.5" r="12"/>
</g>
<g fill="#fff" font-weight="bold" text-anchor="middle">
<text x="1138" y="330" font-size="28" transform="translate(1138 0) scale(0.85 1) translate(-1138 0)">1</text>
<text x="1406" y="405.5" font-size="28" transform="translate(1406 0) scale(0.85 1) translate(-1406 0)">2</text>
<text x="1597.6" y="495.5" font-size="27" transform="translate(1597.6 0) scale(0.85 1) translate(-1597.6 0)">3</text>
<text x="1745" y="389" font-size="27" transform="translate(1745 0) scale(0.85 1) translate(-1745 0)">4</text>
<text x="1293.4" y="892.4" font-size="27" transform="translate(1293.4 0) scale(0.85 1) translate(-1293.4 0)">5</text>
<text x="1206" y="1070.5" font-size="17">1</text>
<text x="1206" y="1114.6" font-size="17">2</text>
<text x="1483" y="1070.5" font-size="17">3</text>
<text x="1483" y="1114.6" font-size="17">4</text>
<text x="1687" y="1070.5" font-size="17">5</text>
</g>
<rect x="1809.7" y="1318.6" width="15.3" height="3.5" fill="#ee7b6f"/>

<!-- labels -->
<g fill="#fff">
<text transform="translate(1227.2 1071) scale(0.827 1)" x="0" y="0" font-size="19" font-weight="bold" textLength="252.3" lengthAdjust="spacing">LAVAGE DES BETTERAVES</text>
<text transform="translate(1227.2 1116) scale(0.856 1)" x="0" y="0" font-size="19" font-weight="bold" textLength="102.4" lengthAdjust="spacing">DIFFUSION</text>
<text transform="translate(1503.2 1072) scale(0.847 1)" x="0" y="0" font-size="19" font-weight="bold" textLength="103.5" lengthAdjust="spacing">SIROPERIE</text>
<text transform="translate(1499.2 1118) scale(0.860 1)" x="0" y="0" font-size="19" font-weight="bold" textLength="168.2" lengthAdjust="spacing">CRISTALLISATION</text>
<text transform="translate(1708.2 1072) scale(0.829 1)" x="0" y="0" font-size="19" font-weight="bold" textLength="228.8" lengthAdjust="spacing">BASSINS DE STOCKAGE</text>
<text transform="translate(1708.2 1097) scale(0.855 1)" x="0" y="0" font-size="19" font-weight="bold" textLength="165.0" lengthAdjust="spacing">ET DÉCANTATION</text>
<text transform="translate(833.2 1052) scale(0.890 1)" x="0" y="0" font-size="18" font-weight="bold" textLength="100.7" lengthAdjust="spacing">ÉPANDAGE</text>
<text transform="translate(866.8000000000001 1154) scale(0.921 1)" x="0" y="0" font-size="18" font-weight="bold" textLength="104.7" lengthAdjust="spacing">IRRIGATION</text>
<text transform="translate(540.2 560) scale(0.821 1)" x="0" y="0" font-size="19" font-weight="bold" textLength="180.5" lengthAdjust="spacing">ENTRÉE SUCRERIE</text>
<text transform="translate(1246.7 642) scale(0.904 1)" x="0" y="0" font-size="18" font-weight="bold" textLength="104.7" lengthAdjust="spacing">ÉPURATION</text>
<text transform="translate(1246.7 666) scale(0.883 1)" x="0" y="0" font-size="18" font-weight="bold" textLength="115.0" lengthAdjust="spacing">BIOLOGIQUE</text>
<text transform="translate(1246.7 690.5) scale(0.899 1)" x="0" y="0" font-size="18" font-weight="bold" textLength="83.0" lengthAdjust="spacing">DE L’EAU</text>
<text transform="translate(1821.2 499.6) scale(0.821 1)" x="0" y="0" font-size="19.5" font-weight="bold" textLength="72.6" lengthAdjust="spacing">SORTIE</text>
<text transform="translate(1809.7 523) scale(0.820 1)" x="0" y="0" font-size="19.5" font-weight="bold" textLength="100.8" lengthAdjust="spacing">SUCRERIE</text>
<text transform="translate(1755.2 664) scale(0.827 1)" x="0" y="0" font-size="19.5" font-weight="bold" textLength="119.2" lengthAdjust="spacing">DISTILLERIE</text>
<text transform="translate(370.2 1205) scale(0.867 1)" x="0" y="0" font-size="19" font-weight="bold" textLength="297.0" lengthAdjust="spacing">ÉPANDAGE D’EAU / IRRIGATION</text>
<text transform="translate(698.2 754.5) scale(0.864 1)" x="0" y="0" font-size="16.5" font-weight="bold" textLength="133.9" lengthAdjust="spacing">EST RÉUTILISÉE</text>
<text transform="translate(703.2 777) scale(0.888 1)" x="0" y="0" font-size="16.5" font-weight="bold" textLength="123.5" lengthAdjust="spacing">OU VALORISÉE</text>
<text transform="translate(248.2 817) scale(1.000 1)" x="0" y="0" font-size="25" font-weight="bold" textLength="126.6" lengthAdjust="spacing">75% d'eau</text>
<text transform="translate(1697.7 1317) scale(0.600 1)" x="0" y="0" font-size="40.5" font-weight="bold" textLength="184.8" lengthAdjust="spacing">CRISTAL</text>
<text transform="translate(1824.2 1317) scale(0.600 1)" x="0" y="0" font-size="40.5" font-weight="bold" textLength="145.0" lengthAdjust="spacing">UNION</text>
<text transform="translate(711.2 688.4) scale(0.849 1)" x="0" y="0" font-size="17" font-weight="normal" textLength="109.7" lengthAdjust="spacing">TOUTE L'EAU</text>
<text transform="translate(709.2 711) scale(0.840 1)" x="0" y="0" font-size="17" font-weight="normal" textLength="111.5" lengthAdjust="spacing">EXTRAITE DE</text>
<text transform="translate(691.8000000000001 733) scale(0.838 1)" x="0" y="0" font-size="17" font-weight="normal" textLength="152.7" lengthAdjust="spacing">NOS BETTERAVES</text>
<text transform="translate(1223.7 1134.5) scale(1.000 1)" x="0" y="0" font-size="14.5" font-weight="normal" textLength="202.6" lengthAdjust="spacing">(Jus sucré extrait de betterave)</text>
<text transform="translate(1730.2 683) scale(0.896 1)" x="0" y="0" font-size="16" font-weight="normal" textLength="165.8" lengthAdjust="spacing">Utilisation de l'eau pour</text>
<text transform="translate(1719.2 701) scale(0.919 1)" x="0" y="0" font-size="16" font-weight="normal" textLength="186.8" lengthAdjust="spacing">la fermentation alcoolique.</text>
<text transform="translate(286.2 1222) scale(0.962 1)" x="0" y="0" font-size="14.5" font-weight="normal" textLength="443.3" lengthAdjust="spacing">Betteraves et autres cultures (Luzerne, céréales, pommes de terre...)</text>
<text transform="translate(248.2 765) scale(0.968 1)" x="0" y="0" font-size="18" font-weight="normal" textLength="169.1" lengthAdjust="spacing">La betterave sucrière</text>
<text transform="translate(248.2 785) scale(0.957 1)" x="0" y="0" font-size="18" font-weight="normal" textLength="127.1" lengthAdjust="spacing">est composée à</text>
<text transform="translate(1824.2 1341) scale(0.984 1)" x="0" y="0" font-size="12" font-weight="bold" textLength="88.0" lengthAdjust="spacing">C’est ensemble</text>
<text transform="translate(1824.2 1353) scale(0.941 1)" x="0" y="0" font-size="12" font-weight="bold" textLength="115.4" lengthAdjust="spacing">que nous avançons.</text>
</g>

</svg></body></html>
